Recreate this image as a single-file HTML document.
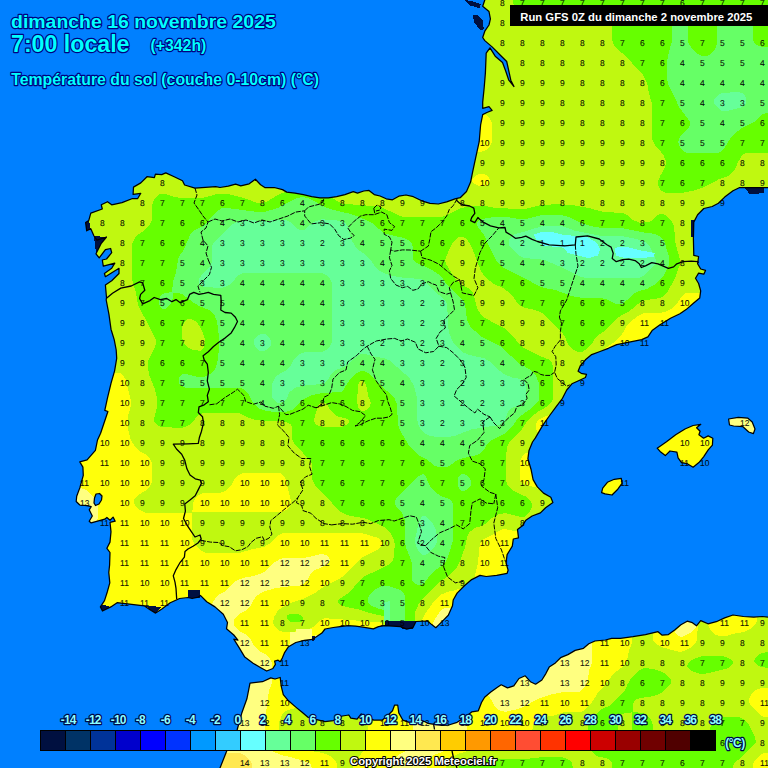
<!DOCTYPE html>
<html><head><meta charset="utf-8"><title>Meteociel GFS</title>
<style>html,body{margin:0;padding:0;background:#0080ff;overflow:hidden}body{width:768px;height:768px;position:relative;font-family:"Liberation Sans",sans-serif}</style></head>
<body>
<svg width="768" height="768" viewBox="0 0 768 768" style="position:absolute;left:0;top:0" shape-rendering="crispEdges">
<rect width="768" height="768" fill="#66ffff"/>
<path fill="#66ff99" fill-rule="evenodd" d="M767.8,615.2 765.2,614.8 751.2,615.2 750.8,614.8 744.2,614.8 736.8,613.2 730.8,613.2 722.2,616.2 715.2,619.8 708.8,621.8 703.2,618.8 698.8,618.8 696.2,622.2 693.8,620.2 689.8,619.2 685.2,619.2 666.8,632.8 663.8,632.8 660.2,629.8 655.2,629.8 644.8,632.8 620.2,636.8 609.2,636.8 604.8,638.2 593.2,639.2 587.2,642.2 581.8,646.8 573.2,648.8 564.2,653.8 558.8,655.8 553.2,661.8 547.2,665.2 540.8,677.8 535.8,681.2 532.8,679.8 527.2,674.2 522.8,674.2 517.2,676.8 512.8,683.8 511.2,684.8 507.2,685.2 503.8,683.2 498.2,683.8 489.8,689.8 482.2,696.2 479.2,701.8 477.2,708.2 476.2,709.2 469.8,710.2 463.2,715.8 456.2,720.2 447.8,723.2 442.8,723.8 432.2,722.2 426.2,719.2 421.2,719.2 416.8,720.8 410.8,720.8 404.8,717.8 401.2,711.2 399.8,703.2 392.8,703.2 390.8,709.2 385.8,714.2 380.2,718.2 375.8,718.2 363.2,712.2 359.2,712.2 355.8,716.8 353.2,716.2 351.2,713.2 345.8,713.2 335.2,715.8 331.8,718.8 324.2,719.2 310.8,715.8 289.8,698.2 285.2,691.8 283.2,684.8 282.2,675.8 277.8,675.8 275.8,676.8 268.8,676.2 261.2,679.8 248.2,681.2 245.2,697.8 239.2,712.8 235.8,727.2 225.8,746.8 218.2,765.2 218.2,767.8 767.8,767.8ZM623.8,476.8 618.2,476.8 612.2,477.8 605.8,480.8 600.8,486.2 599.8,489.8 599.8,494.8 605.2,496.8 614.2,497.2 620.8,490.8 624.2,485.8ZM715.2,436.2 710.8,434.2 705.8,434.2 704.2,435.2 702.2,433.8 702.2,429.8 701.2,428.2 703.2,426.8 703.2,422.8 690.8,423.8 682.2,427.8 675.8,431.8 655.8,445.8 655.2,450.2 659.2,454.8 663.8,457.8 667.8,457.8 671.8,453.8 674.8,454.2 675.8,456.2 676.2,460.2 679.8,464.8 685.8,465.8 691.2,469.2 695.2,469.2 702.2,463.8 706.2,458.8 709.8,452.8 714.8,447.2ZM726.8,417.2 726.8,422.8 727.8,427.2 731.2,428.2 741.2,428.8 747.8,434.8 751.2,435.8 755.8,435.8 757.2,431.8 757.2,426.8 754.2,420.2 749.8,416.2 735.2,415.8ZM767.8,0.2 482.2,0.2 480.8,3.8 480.8,8.2 487.2,13.8 488.2,17.8 487.2,23.2 483.8,28.2 480.8,35.2 480.8,39.8 487.8,46.8 484.2,51.2 483.8,73.2 480.8,98.2 480.8,110.8 483.8,111.2 480.8,112.8 478.8,122.2 477.8,136.8 475.8,148.8 470.8,168.8 469.2,178.8 464.8,189.8 458.2,195.8 443.8,200.8 437.8,202.2 431.8,201.8 424.8,199.8 415.8,194.8 409.2,193.2 399.2,193.8 395.2,195.2 391.8,197.8 390.2,197.8 382.8,194.2 376.2,192.8 371.2,188.8 365.2,188.8 359.8,190.2 351.2,189.8 343.8,192.8 327.8,196.2 321.2,196.2 304.2,192.2 288.8,190.2 284.8,187.8 277.2,185.8 267.2,185.8 263.2,183.8 257.8,177.2 253.8,177.2 247.2,182.2 242.2,183.8 238.2,182.2 233.2,182.2 222.2,185.2 211.2,184.8 196.8,186.2 186.8,183.2 184.2,178.8 168.8,171.2 163.8,171.2 161.8,172.2 153.8,172.2 152.8,175.2 145.2,174.8 138.8,181.8 132.2,184.8 130.8,196.8 120.8,200.8 114.8,202.2 112.8,202.2 109.8,199.8 105.8,199.8 99.8,203.2 99.2,207.8 89.2,211.2 87.2,218.8 83.8,220.8 83.8,226.8 84.8,233.2 89.8,232.8 94.2,241.2 95.2,242.2 99.2,242.8 94.2,252.2 94.2,256.2 97.2,260.2 100.8,260.8 101.8,268.2 106.8,268.8 102.8,271.8 102.8,276.2 103.8,278.8 107.8,278.8 110.8,276.8 111.8,277.2 109.2,279.8 103.8,283.2 103.8,290.2 104.8,296.8 104.2,297.2 104.2,303.2 107.2,315.8 109.2,331.8 113.2,345.8 114.8,358.2 112.8,369.8 109.8,379.2 103.2,407.8 103.2,412.8 104.8,413.8 104.8,415.2 98.8,432.2 95.8,437.8 93.8,448.8 85.2,458.2 78.2,460.2 78.2,464.2 81.2,469.2 81.8,474.2 78.2,486.8 74.8,493.8 74.2,503.8 78.2,507.2 86.2,507.8 87.2,508.8 87.2,512.2 89.2,515.8 87.2,519.2 87.2,523.2 89.2,525.2 93.8,525.2 106.8,521.2 108.2,522.2 108.2,526.8 109.2,531.8 108.2,540.8 105.2,546.2 105.2,550.8 108.2,554.8 107.8,566.8 107.2,567.2 107.8,583.2 103.2,597.8 98.8,605.2 98.8,609.8 100.2,612.8 105.2,613.2 114.2,608.8 117.8,605.8 120.2,605.2 142.2,608.2 153.8,615.2 157.8,615.2 163.8,611.8 172.2,604.8 181.2,600.8 184.2,600.2 195.2,600.8 200.2,599.2 205.2,604.2 212.8,608.8 221.8,616.2 225.2,623.2 224.8,631.2 232.2,637.2 232.2,641.2 242.8,658.8 251.8,666.2 264.8,673.2 269.2,673.2 275.8,670.2 277.8,666.8 278.2,663.8 282.8,663.2 287.8,653.2 291.2,648.2 299.8,644.2 305.8,642.8 314.8,641.8 323.8,635.8 326.2,632.2 328.8,630.8 350.2,627.8 362.2,629.2 370.8,631.2 376.2,631.2 380.8,628.8 386.8,627.8 387.2,628.2 399.2,628.8 404.2,631.2 409.8,631.2 415.2,629.8 418.2,623.8 423.8,623.8 424.2,623.2 425.8,623.2 434.2,629.8 438.2,629.8 450.8,617.2 454.8,608.8 455.2,602.2 458.8,595.8 473.8,581.8 480.8,578.2 490.8,578.8 499.8,577.8 509.2,575.8 510.2,572.8 510.2,567.8 508.8,563.8 509.2,556.8 514.8,548.2 515.8,541.8 517.2,540.8 520.8,540.2 520.2,531.2 525.2,527.2 528.8,521.8 535.2,517.8 542.8,515.2 548.2,509.2 555.2,504.8 555.2,500.2 553.2,495.8 546.2,491.8 539.2,484.8 535.2,477.8 533.8,468.8 530.8,459.8 531.2,452.2 535.2,443.2 538.2,439.8 544.2,428.2 556.2,411.2 563.8,402.2 568.8,392.2 574.2,386.2 587.8,379.8 588.8,377.2 588.8,372.8 583.2,371.8 581.8,370.2 582.2,368.2 590.2,359.8 594.8,356.2 611.2,350.8 620.2,346.2 642.2,342.2 650.2,339.2 654.8,332.2 670.8,321.8 683.2,315.8 698.8,303.2 701.8,300.2 702.8,294.8 702.8,288.8 701.2,282.8 698.8,278.8 700.8,275.8 701.2,276.2 706.2,276.2 707.8,273.2 707.8,268.8 702.8,267.2 700.2,263.2 700.8,254.8 697.8,254.2 696.2,253.2 696.2,245.8 695.8,245.2 696.2,223.8 699.2,217.8 706.2,210.8 714.8,208.8 720.8,205.8 727.2,198.8 735.8,192.8 741.2,189.8 767.8,189.8ZM539.8,241.8 543.2,239.8 547.8,239.2 561.8,239.2 573.2,240.8 579.2,240.8 586.8,242.8 589.2,245.2 589.2,247.2 585.8,250.8 581.2,251.8 565.2,247.8 544.8,245.8 540.8,244.2 539.8,243.2Z"/>
<path fill="#66ff66" fill-rule="evenodd" d="M767.8,615.2 765.2,614.8 751.2,615.2 750.8,614.8 744.2,614.8 736.8,613.2 730.8,613.2 722.2,616.2 715.2,619.8 708.8,621.8 703.2,618.8 698.8,618.8 696.2,622.2 693.8,620.2 689.8,619.2 685.2,619.2 666.8,632.8 663.8,632.8 660.2,629.8 655.2,629.8 644.8,632.8 620.2,636.8 609.2,636.8 604.8,638.2 593.2,639.2 587.2,642.2 581.8,646.8 573.2,648.8 564.2,653.8 558.8,655.8 553.2,661.8 547.2,665.2 540.8,677.8 535.8,681.2 532.8,679.8 527.2,674.2 522.8,674.2 517.2,676.8 512.8,683.8 511.2,684.8 507.2,685.2 503.8,683.2 498.2,683.8 489.8,689.8 482.2,696.2 479.2,701.8 477.2,708.2 476.2,709.2 469.8,710.2 463.2,715.8 456.2,720.2 447.8,723.2 442.8,723.8 432.2,722.2 426.2,719.2 421.2,719.2 416.8,720.8 410.8,720.8 404.8,717.8 401.2,711.2 399.8,703.2 392.8,703.2 390.8,709.2 385.8,714.2 380.2,718.2 375.8,718.2 363.2,712.2 359.2,712.2 355.8,716.8 353.2,716.2 351.2,713.2 345.8,713.2 335.2,715.8 331.8,718.8 324.2,719.2 310.8,715.8 289.8,698.2 285.2,691.8 283.2,684.8 282.2,675.8 277.8,675.8 275.8,676.8 268.8,676.2 261.2,679.8 248.2,681.2 245.2,697.8 239.2,712.8 235.8,727.2 225.8,746.8 218.2,765.2 218.2,767.8 767.8,767.8ZM623.8,476.8 618.2,476.8 612.2,477.8 605.8,480.8 600.8,486.2 599.8,489.8 599.8,494.8 605.2,496.8 614.2,497.2 620.8,490.8 624.2,485.8ZM715.2,436.2 710.8,434.2 705.8,434.2 704.2,435.2 702.2,433.8 702.2,429.8 701.2,428.2 703.2,426.8 703.2,422.8 690.8,423.8 682.2,427.8 675.8,431.8 655.8,445.8 655.2,450.2 659.2,454.8 663.8,457.8 667.8,457.8 671.8,453.8 674.8,454.2 675.8,456.2 676.2,460.2 679.8,464.8 685.8,465.8 691.2,469.2 695.2,469.2 702.2,463.8 706.2,458.8 709.8,452.8 714.8,447.2ZM726.8,417.2 726.8,422.8 727.8,427.2 731.2,428.2 741.2,428.8 747.8,434.8 751.2,435.8 755.8,435.8 757.2,431.8 757.2,426.8 754.2,420.2 749.8,416.2 735.2,415.8ZM767.8,0.2 482.2,0.2 480.8,3.8 480.8,8.2 487.2,13.8 488.2,17.8 487.2,23.2 483.8,28.2 480.8,35.2 480.8,39.8 487.8,46.8 484.2,51.2 483.8,73.2 480.8,98.2 480.8,110.8 483.8,111.2 480.8,112.8 478.8,122.2 477.8,136.8 475.8,148.8 470.8,168.8 469.2,178.8 464.8,189.8 458.2,195.8 443.8,200.8 437.8,202.2 431.8,201.8 424.8,199.8 415.8,194.8 409.2,193.2 399.2,193.8 395.2,195.2 391.8,197.8 390.2,197.8 382.8,194.2 376.2,192.8 371.2,188.8 365.2,188.8 359.8,190.2 351.2,189.8 343.8,192.8 327.8,196.2 321.2,196.2 304.2,192.2 288.8,190.2 284.8,187.8 277.2,185.8 267.2,185.8 263.2,183.8 257.8,177.2 253.8,177.2 247.2,182.2 242.2,183.8 238.2,182.2 233.2,182.2 222.2,185.2 211.2,184.8 196.8,186.2 186.8,183.2 184.2,178.8 168.8,171.2 163.8,171.2 161.8,172.2 153.8,172.2 152.8,175.2 145.2,174.8 138.8,181.8 132.2,184.8 130.8,196.8 120.8,200.8 114.8,202.2 112.8,202.2 109.8,199.8 105.8,199.8 99.8,203.2 99.2,207.8 89.2,211.2 87.2,218.8 83.8,220.8 83.8,226.8 84.8,233.2 89.8,232.8 94.2,241.2 95.2,242.2 99.2,242.8 94.2,252.2 94.2,256.2 97.2,260.2 100.8,260.8 101.8,268.2 106.8,268.8 102.8,271.8 102.8,276.2 103.8,278.8 107.8,278.8 110.8,276.8 111.8,277.2 109.2,279.8 103.8,283.2 103.8,290.2 104.8,296.8 104.2,297.2 104.2,303.2 107.2,315.8 109.2,331.8 113.2,345.8 114.8,358.2 112.8,369.8 109.8,379.2 103.2,407.8 103.2,412.8 104.8,413.8 104.8,415.2 98.8,432.2 95.8,437.8 93.8,448.8 85.2,458.2 78.2,460.2 78.2,464.2 81.2,469.2 81.8,474.2 78.2,486.8 74.8,493.8 74.2,503.8 78.2,507.2 86.2,507.8 87.2,508.8 87.2,512.2 89.2,515.8 87.2,519.2 87.2,523.2 89.2,525.2 93.8,525.2 106.8,521.2 108.2,522.2 108.2,526.8 109.2,531.8 108.2,540.8 105.2,546.2 105.2,550.8 108.2,554.8 107.8,566.8 107.2,567.2 107.8,583.2 103.2,597.8 98.8,605.2 98.8,609.8 100.2,612.8 105.2,613.2 114.2,608.8 117.8,605.8 120.2,605.2 142.2,608.2 153.8,615.2 157.8,615.2 163.8,611.8 172.2,604.8 181.2,600.8 184.2,600.2 195.2,600.8 200.2,599.2 205.2,604.2 212.8,608.8 221.8,616.2 225.2,623.2 224.8,631.2 232.2,637.2 232.2,641.2 242.8,658.8 251.8,666.2 264.8,673.2 269.2,673.2 275.8,670.2 277.8,666.8 278.2,663.8 282.8,663.2 287.8,653.2 291.2,648.2 299.8,644.2 305.8,642.8 314.8,641.8 323.8,635.8 326.2,632.2 328.8,630.8 350.2,627.8 362.2,629.2 370.8,631.2 376.2,631.2 380.8,628.8 386.8,627.8 387.2,628.2 399.2,628.8 404.2,631.2 409.8,631.2 415.2,629.8 418.2,623.8 423.8,623.8 424.2,623.2 425.8,623.2 434.2,629.8 438.2,629.8 450.8,617.2 454.8,608.8 455.2,602.2 458.8,595.8 473.8,581.8 480.8,578.2 490.8,578.8 499.8,577.8 509.2,575.8 510.2,572.8 510.2,567.8 508.8,563.8 509.2,556.8 514.8,548.2 515.8,541.8 517.2,540.8 520.8,540.2 520.2,531.2 525.2,527.2 528.8,521.8 535.2,517.8 542.8,515.2 548.2,509.2 555.2,504.8 555.2,500.2 553.2,495.8 546.2,491.8 539.2,484.8 535.2,477.8 533.8,468.8 530.8,459.8 531.2,452.2 535.2,443.2 538.2,439.8 544.2,428.2 556.2,411.2 563.8,402.2 568.8,392.2 574.2,386.2 587.8,379.8 588.8,377.2 588.8,372.8 583.2,371.8 581.8,370.2 582.2,368.2 590.2,359.8 594.8,356.2 611.2,350.8 620.2,346.2 642.2,342.2 650.2,339.2 654.8,332.2 670.8,321.8 683.2,315.8 698.8,303.2 701.8,300.2 702.8,294.8 702.8,288.8 701.2,282.8 698.8,278.8 700.8,275.8 701.2,276.2 706.2,276.2 707.8,273.2 707.8,268.8 702.8,267.2 700.2,263.2 700.8,254.8 697.8,254.2 696.2,253.2 696.2,245.8 695.8,245.2 696.2,223.8 699.2,217.8 706.2,210.8 714.8,208.8 720.8,205.8 727.2,198.8 735.8,192.8 741.2,189.8 767.8,189.8ZM423.2,515.8 425.2,515.8 426.8,516.8 433.2,523.8 435.8,530.2 437.2,538.2 437.2,541.2 435.2,546.2 428.8,553.2 425.2,555.2 422.8,555.2 419.2,551.8 416.2,546.2 415.2,542.8 415.2,538.8 418.2,524.8 420.8,518.2ZM260.8,333.8 264.2,333.8 266.2,334.8 269.2,337.2 271.2,340.8 271.2,344.2 270.2,346.2 267.8,349.2 264.2,351.2 260.8,351.2 258.8,350.2 255.8,347.8 253.8,344.2 253.8,340.8 254.8,338.8 257.2,335.8ZM508.8,239.8 512.8,235.2 515.8,233.8 524.2,231.8 542.8,225.8 561.2,225.8 575.2,230.8 602.2,236.2 622.2,236.2 635.2,238.8 643.8,241.2 646.2,242.8 650.2,247.2 655.2,257.2 656.2,261.8 654.8,265.2 644.8,275.2 639.2,277.8 584.8,277.8 579.2,276.2 563.8,268.2 544.8,260.2 539.8,259.2 525.8,258.2 522.2,257.2 516.8,253.8 511.8,248.8 509.2,245.2ZM213.2,243.2 231.8,224.8 238.2,221.2 243.2,220.2 268.2,220.8 274.8,219.8 285.2,219.8 291.2,222.2 297.2,228.8 299.8,230.2 303.2,230.2 305.2,229.2 313.8,221.8 321.8,219.2 340.2,220.8 345.2,222.8 348.2,226.8 350.8,238.2 355.2,246.8 358.8,250.2 363.2,253.2 371.8,261.8 374.8,266.2 378.2,269.8 384.2,273.2 392.2,275.8 404.2,277.8 418.8,278.8 422.8,279.8 425.2,281.2 437.2,293.8 440.8,296.2 445.8,301.2 447.2,304.2 448.2,327.8 449.8,334.8 453.2,342.8 463.8,352.8 470.2,355.2 484.2,358.2 490.2,361.8 498.8,370.2 505.2,374.8 513.2,377.8 515.2,377.8 521.8,379.8 524.8,382.8 525.8,385.2 525.8,398.8 524.8,401.2 521.8,404.2 511.2,408.2 508.2,411.2 504.8,420.8 502.8,423.2 500.2,424.8 472.2,429.2 454.8,435.8 447.2,437.2 437.8,437.2 430.2,435.8 425.2,433.8 421.2,429.8 418.2,424.2 417.2,420.2 416.8,397.2 414.2,386.8 409.8,378.2 389.2,360.2 382.8,357.8 374.8,356.8 364.2,353.8 361.8,353.8 358.2,355.2 347.2,364.8 334.8,370.8 330.8,374.8 327.8,380.2 324.8,382.8 320.8,384.2 305.8,385.2 295.2,387.8 289.8,391.8 285.8,400.2 283.8,402.2 278.2,402.8 275.8,401.8 272.8,398.8 272.2,397.2 272.2,384.8 272.8,382.2 275.2,377.8 278.2,374.8 286.8,369.8 289.8,366.8 294.8,358.2 299.2,354.2 304.8,352.2 322.8,351.8 327.2,349.2 329.2,347.2 331.8,342.8 332.2,340.2 332.2,284.8 331.8,282.2 329.2,277.8 327.2,275.8 322.8,273.2 320.2,272.8 244.8,272.8 242.2,273.2 237.8,275.8 229.8,284.8 225.8,286.8 221.2,287.8 204.2,287.2 199.8,284.2 198.8,282.2 198.8,279.8 201.8,274.2 209.2,267.2 211.8,262.8 212.2,246.2ZM714.2,99.8 717.8,95.2 722.2,92.8 739.2,92.2 742.2,93.2 745.2,96.2 746.2,98.2 746.2,102.2 745.2,104.2 741.8,107.2 725.8,111.2 722.8,111.2 719.8,109.8 715.8,105.8 714.2,103.2Z"/>
<path fill="#66ff00" fill-rule="evenodd" d="M767.8,615.2 765.2,614.8 751.2,615.2 750.8,614.8 744.2,614.8 736.8,613.2 730.8,613.2 722.2,616.2 715.2,619.8 708.8,621.8 703.2,618.8 698.8,618.8 696.2,622.2 693.8,620.2 689.8,619.2 685.2,619.2 666.8,632.8 663.8,632.8 660.2,629.8 655.2,629.8 644.8,632.8 620.2,636.8 609.2,636.8 604.8,638.2 593.2,639.2 587.2,642.2 581.8,646.8 573.2,648.8 564.2,653.8 558.8,655.8 553.2,661.8 547.2,665.2 540.8,677.8 535.8,681.2 532.8,679.8 527.2,674.2 522.8,674.2 517.2,676.8 512.8,683.8 511.2,684.8 507.2,685.2 503.8,683.2 498.2,683.8 489.8,689.8 482.2,696.2 479.2,701.8 477.2,708.2 476.2,709.2 469.8,710.2 463.2,715.8 456.2,720.2 447.8,723.2 442.8,723.8 432.2,722.2 426.2,719.2 421.2,719.2 416.8,720.8 410.8,720.8 404.8,717.8 401.2,711.2 399.8,703.2 392.8,703.2 390.8,709.2 385.8,714.2 380.2,718.2 375.8,718.2 363.2,712.2 359.2,712.2 355.8,716.8 353.2,716.2 351.2,713.2 345.8,713.2 335.2,715.8 331.8,718.8 324.2,719.2 310.8,715.8 289.8,698.2 285.2,691.8 283.2,684.8 282.2,675.8 277.8,675.8 275.8,676.8 268.8,676.2 261.2,679.8 248.2,681.2 245.2,697.8 239.2,712.8 235.8,727.2 225.8,746.8 218.2,765.2 218.2,767.8 767.8,767.8ZM623.8,476.8 618.2,476.8 612.2,477.8 605.8,480.8 600.8,486.2 599.8,489.8 599.8,494.8 605.2,496.8 614.2,497.2 620.8,490.8 624.2,485.8ZM715.2,436.2 710.8,434.2 705.8,434.2 704.2,435.2 702.2,433.8 702.2,429.8 701.2,428.2 703.2,426.8 703.2,422.8 690.8,423.8 682.2,427.8 675.8,431.8 655.8,445.8 655.2,450.2 659.2,454.8 663.8,457.8 667.8,457.8 671.8,453.8 674.8,454.2 675.8,456.2 676.2,460.2 679.8,464.8 685.8,465.8 691.2,469.2 695.2,469.2 702.2,463.8 706.2,458.8 709.8,452.8 714.8,447.2ZM726.8,417.2 726.8,422.8 727.8,427.2 731.2,428.2 741.2,428.8 747.8,434.8 751.2,435.8 755.8,435.8 757.2,431.8 757.2,426.8 754.2,420.2 749.8,416.2 735.2,415.8ZM767.8,0.2 482.2,0.2 480.8,3.8 480.8,8.2 487.2,13.8 488.2,17.8 487.2,23.2 483.8,28.2 480.8,35.2 480.8,39.8 487.8,46.8 484.2,51.2 483.8,73.2 480.8,98.2 480.8,110.8 483.8,111.2 480.8,112.8 478.8,122.2 477.8,136.8 475.8,148.8 470.8,168.8 469.2,178.8 464.8,189.8 458.2,195.8 443.8,200.8 437.8,202.2 431.8,201.8 424.8,199.8 415.8,194.8 409.2,193.2 399.2,193.8 395.2,195.2 391.8,197.8 390.2,197.8 382.8,194.2 376.2,192.8 371.2,188.8 365.2,188.8 359.8,190.2 351.2,189.8 343.8,192.8 327.8,196.2 321.2,196.2 304.2,192.2 288.8,190.2 284.8,187.8 277.2,185.8 267.2,185.8 263.2,183.8 257.8,177.2 253.8,177.2 247.2,182.2 242.2,183.8 238.2,182.2 233.2,182.2 222.2,185.2 211.2,184.8 196.8,186.2 186.8,183.2 184.2,178.8 168.8,171.2 163.8,171.2 161.8,172.2 153.8,172.2 152.8,175.2 145.2,174.8 138.8,181.8 132.2,184.8 130.8,196.8 120.8,200.8 114.8,202.2 112.8,202.2 109.8,199.8 105.8,199.8 99.8,203.2 99.2,207.8 89.2,211.2 87.2,218.8 83.8,220.8 83.8,226.8 84.8,233.2 89.8,232.8 94.2,241.2 95.2,242.2 99.2,242.8 94.2,252.2 94.2,256.2 97.2,260.2 100.8,260.8 101.8,268.2 106.8,268.8 102.8,271.8 102.8,276.2 103.8,278.8 107.8,278.8 110.8,276.8 111.8,277.2 109.2,279.8 103.8,283.2 103.8,290.2 104.8,296.8 104.2,297.2 104.2,303.2 107.2,315.8 109.2,331.8 113.2,345.8 114.8,358.2 112.8,369.8 109.8,379.2 103.2,407.8 103.2,412.8 104.8,413.8 104.8,415.2 98.8,432.2 95.8,437.8 93.8,448.8 85.2,458.2 78.2,460.2 78.2,464.2 81.2,469.2 81.8,474.2 78.2,486.8 74.8,493.8 74.2,503.8 78.2,507.2 86.2,507.8 87.2,508.8 87.2,512.2 89.2,515.8 87.2,519.2 87.2,523.2 89.2,525.2 93.8,525.2 106.8,521.2 108.2,522.2 108.2,526.8 109.2,531.8 108.2,540.8 105.2,546.2 105.2,550.8 108.2,554.8 107.8,566.8 107.2,567.2 107.8,583.2 103.2,597.8 98.8,605.2 98.8,609.8 100.2,612.8 105.2,613.2 114.2,608.8 117.8,605.8 120.2,605.2 142.2,608.2 153.8,615.2 157.8,615.2 163.8,611.8 172.2,604.8 181.2,600.8 184.2,600.2 195.2,600.8 200.2,599.2 205.2,604.2 212.8,608.8 221.8,616.2 225.2,623.2 224.8,631.2 232.2,637.2 232.2,641.2 242.8,658.8 251.8,666.2 264.8,673.2 269.2,673.2 275.8,670.2 277.8,666.8 278.2,663.8 282.8,663.2 287.8,653.2 291.2,648.2 299.8,644.2 305.8,642.8 314.8,641.8 323.8,635.8 326.2,632.2 328.8,630.8 350.2,627.8 362.2,629.2 370.8,631.2 376.2,631.2 380.8,628.8 386.8,627.8 387.2,628.2 399.2,628.8 404.2,631.2 409.8,631.2 415.2,629.8 418.2,623.8 423.8,623.8 424.2,623.2 425.8,623.2 434.2,629.8 438.2,629.8 450.8,617.2 454.8,608.8 455.2,602.2 458.8,595.8 473.8,581.8 480.8,578.2 490.8,578.8 499.8,577.8 509.2,575.8 510.2,572.8 510.2,567.8 508.8,563.8 509.2,556.8 514.8,548.2 515.8,541.8 517.2,540.8 520.8,540.2 520.2,531.2 525.2,527.2 528.8,521.8 535.2,517.8 542.8,515.2 548.2,509.2 555.2,504.8 555.2,500.2 553.2,495.8 546.2,491.8 539.2,484.8 535.2,477.8 533.8,468.8 530.8,459.8 531.2,452.2 535.2,443.2 538.2,439.8 544.2,428.2 556.2,411.2 563.8,402.2 568.8,392.2 574.2,386.2 587.8,379.8 588.8,377.2 588.8,372.8 583.2,371.8 581.8,370.2 582.2,368.2 590.2,359.8 594.8,356.2 611.2,350.8 620.2,346.2 642.2,342.2 650.2,339.2 654.8,332.2 670.8,321.8 683.2,315.8 698.8,303.2 701.8,300.2 702.8,294.8 702.8,288.8 701.2,282.8 698.8,278.8 700.8,275.8 701.2,276.2 706.2,276.2 707.8,273.2 707.8,268.8 702.8,267.2 700.2,263.2 700.8,254.8 697.8,254.2 696.2,253.2 696.2,245.8 695.8,245.2 696.2,223.8 699.2,217.8 706.2,210.8 714.8,208.8 720.8,205.8 727.2,198.8 735.8,192.8 741.2,189.8 767.8,189.8 767.8,112.8 763.2,113.8 754.2,121.8 741.8,128.2 736.8,131.8 729.8,139.2 723.8,149.2 719.8,152.2 718.2,152.8 686.8,152.8 683.2,151.2 681.2,149.2 678.8,144.8 678.2,141.8 680.2,136.2 689.8,126.2 690.2,121.8 679.8,108.2 668.8,85.8 667.2,80.2 667.2,61.2 668.8,52.2 672.2,40.2 672.2,25.8 674.8,20.2 678.8,16.2 682.2,15.2 685.2,17.8 686.8,20.8 687.8,25.2 687.8,40.2 688.8,43.8 691.8,48.2 696.8,53.2 702.2,56.2 707.2,55.8 710.2,54.2 714.2,50.2 716.2,46.2 717.2,42.2 717.2,25.8 718.2,22.2 720.8,19.2 725.8,17.2 740.2,17.2 744.8,18.2 749.2,20.8 751.2,22.8 752.8,26.2 752.8,39.2 753.8,42.2 756.2,44.8 759.2,46.2 763.8,47.2 767.8,47.2ZM369.2,595.8 375.8,589.2 381.8,586.2 388.8,586.2 398.8,589.2 402.8,592.2 404.8,595.8 405.8,599.8 405.2,609.2 403.2,618.2 401.8,619.2 399.2,615.8 396.2,612.8 394.2,611.8 378.2,608.8 370.8,605.2 367.8,601.8 367.8,598.8ZM423.2,474.2 426.2,476.8 428.2,482.8 430.2,486.2 436.8,493.2 441.2,496.2 449.8,499.2 452.2,502.2 452.8,504.2 452.8,541.2 447.8,557.8 444.8,563.2 442.2,565.8 435.8,569.8 429.8,575.8 424.2,583.2 421.8,584.8 418.8,585.2 414.8,583.8 413.2,582.2 412.2,579.8 412.2,564.8 410.2,557.8 406.2,548.2 404.8,541.2 404.8,533.8 405.2,533.2 404.8,519.8 401.8,512.8 395.8,505.8 394.8,503.8 394.8,501.2 395.8,499.2 410.8,483.8 419.2,475.8ZM461.8,473.8 464.2,473.8 467.8,475.8 471.2,480.8 471.2,484.2 470.2,486.2 467.8,489.2 464.2,491.2 460.8,490.8 459.2,489.2 457.8,485.2 458.2,477.8 459.2,475.8ZM172.2,292.2 172.8,292.8 172.8,298.2 170.8,303.8 165.2,309.2 161.8,308.8 158.8,304.2 158.8,299.8 160.2,296.8 163.2,293.8 165.2,292.8ZM476.8,222.8 479.8,220.2 483.8,218.8 495.2,216.8 506.8,216.8 519.2,219.2 524.8,219.2 543.2,214.8 561.2,214.8 570.8,217.8 580.8,223.2 594.2,226.8 602.8,228.2 622.8,228.2 641.8,232.2 653.8,233.8 660.2,236.2 664.2,240.8 669.2,257.8 669.2,264.8 663.2,276.2 656.8,283.2 647.2,288.8 638.8,291.2 633.8,293.8 622.8,303.8 620.8,304.2 615.8,303.8 606.2,299.2 600.2,297.8 581.2,297.8 572.2,296.2 554.8,289.8 545.2,288.2 538.8,286.2 530.2,281.2 502.2,267.2 497.8,262.8 495.8,259.8 487.8,243.8 484.8,236.2 477.8,226.8 476.8,224.8ZM178.2,258.8 180.8,253.8 183.8,249.8 190.2,234.8 194.8,230.2 203.8,225.8 216.8,211.2 221.8,208.2 228.8,208.2 255.8,211.8 265.2,211.8 277.2,208.2 296.8,198.2 300.8,197.2 304.2,197.2 310.8,199.2 321.2,205.2 330.2,209.2 349.8,213.8 357.2,216.2 371.8,222.8 382.2,231.8 385.8,233.8 404.8,238.2 409.2,240.8 411.2,242.8 412.8,246.2 412.8,257.8 414.2,261.2 421.2,265.2 424.8,266.2 431.8,269.8 438.2,274.2 442.8,278.8 448.2,286.2 463.8,301.2 465.2,305.2 466.8,318.8 469.2,324.8 471.8,328.2 480.8,336.2 501.2,346.8 518.2,362.8 529.2,369.2 535.8,375.8 539.2,383.2 539.2,399.2 538.8,400.8 533.2,406.8 521.8,415.2 516.2,420.8 511.8,427.2 507.8,431.2 503.8,434.2 491.2,440.2 487.2,444.2 484.2,449.8 480.8,453.2 474.8,455.8 460.2,458.8 455.8,461.2 449.2,466.2 446.2,467.2 438.8,467.2 434.8,465.8 427.8,460.2 418.8,455.2 409.2,445.8 400.8,431.8 397.8,424.8 397.2,404.8 394.8,398.8 388.2,391.8 382.8,387.8 370.2,374.2 364.8,371.2 360.8,371.2 355.2,374.2 348.8,381.2 343.2,390.2 340.8,392.2 322.8,392.8 311.8,395.2 303.2,399.2 295.2,407.8 292.2,409.8 285.2,412.2 275.8,412.2 263.2,410.2 258.8,408.2 253.2,403.2 249.2,395.2 246.8,391.8 243.8,389.2 239.8,387.8 186.2,387.8 181.8,386.2 178.8,382.8 178.8,378.2 181.2,374.8 183.2,373.8 185.8,373.8 197.2,376.8 204.2,376.8 210.2,374.2 214.2,370.2 216.2,366.2 217.8,360.2 218.8,350.2 218.8,334.8 216.8,320.2 214.2,314.8 212.2,312.2 208.8,309.8 200.8,306.8 194.2,303.2 182.2,294.2 178.2,292.8 172.8,292.8 172.2,292.2 172.8,282.2 175.8,272.8Z"/>
<path fill="#c0f810" fill-rule="evenodd" d="M767.8,615.2 765.2,614.8 751.2,615.2 750.8,614.8 744.2,614.8 736.8,613.2 730.8,613.2 722.2,616.2 715.2,619.8 708.8,621.8 703.2,618.8 698.8,618.8 696.2,622.2 693.8,620.2 689.8,619.2 685.2,619.2 666.8,632.8 663.8,632.8 660.2,629.8 655.2,629.8 644.8,632.8 620.2,636.8 609.2,636.8 604.8,638.2 593.2,639.2 587.2,642.2 581.8,646.8 573.2,648.8 564.2,653.8 558.8,655.8 553.2,661.8 547.2,665.2 540.8,677.8 535.8,681.2 532.8,679.8 527.2,674.2 522.8,674.2 517.2,676.8 512.8,683.8 511.2,684.8 507.2,685.2 503.8,683.2 498.2,683.8 489.8,689.8 482.2,696.2 479.2,701.8 477.2,708.2 476.2,709.2 469.8,710.2 463.2,715.8 456.2,720.2 447.8,723.2 442.8,723.8 432.2,722.2 426.2,719.2 421.2,719.2 416.8,720.8 410.8,720.8 404.8,717.8 401.2,711.2 399.8,703.2 392.8,703.2 390.8,709.2 385.8,714.2 380.2,718.2 375.8,718.2 363.2,712.2 359.2,712.2 355.8,716.8 353.2,716.2 351.2,713.2 345.8,713.2 335.2,715.8 331.8,718.8 324.2,719.2 310.8,715.8 289.8,698.2 285.2,691.8 283.2,684.8 282.2,675.8 277.8,675.8 275.8,676.8 268.8,676.2 261.2,679.8 248.2,681.2 245.2,697.8 239.2,712.8 235.8,727.2 225.8,746.8 218.2,765.2 218.2,767.8 459.2,767.8 459.8,764.8 461.8,762.2 465.2,760.8 474.2,760.2 480.2,759.2 523.8,759.2 542.2,757.2 561.2,757.2 565.8,758.2 568.8,759.8 571.8,762.8 572.8,767.8 612.2,767.8 611.8,762.8 610.2,760.2 606.2,758.2 598.8,756.8 594.8,754.8 590.2,750.2 588.2,746.2 587.2,741.8 587.8,724.2 589.2,721.8 601.8,709.2 611.2,704.8 624.8,691.2 626.8,685.8 629.8,680.2 640.2,669.8 645.2,667.8 656.8,669.8 664.8,673.2 669.8,677.8 670.8,679.8 670.8,683.2 669.8,685.2 662.8,692.2 659.2,694.2 652.8,696.2 639.2,698.2 635.8,699.8 633.8,701.8 632.8,705.2 632.8,712.2 621.8,713.8 619.8,715.8 618.2,719.2 617.8,723.2 617.8,741.8 618.8,747.2 620.8,750.2 624.2,750.8 627.8,748.8 631.8,742.8 632.2,740.2 632.2,712.8 632.8,712.2 642.2,712.8 645.8,714.2 649.8,717.8 652.2,722.2 652.8,724.8 653.2,742.8 655.8,747.2 657.8,749.2 662.2,751.2 677.2,747.8 687.8,747.8 699.2,750.8 701.8,750.8 704.2,749.2 706.2,745.8 708.8,732.2 711.8,723.8 715.2,720.2 717.8,718.8 723.8,717.2 739.2,717.2 743.2,718.8 747.8,723.2 749.8,726.2 755.2,737.2 755.8,742.2 754.8,744.2 741.2,757.8 734.2,762.8 732.8,767.8 767.8,767.8 767.8,667.8 762.2,667.2 759.2,666.2 756.8,664.8 754.2,661.2 754.8,658.8 757.8,655.2 762.2,652.8 767.8,652.2ZM687.2,666.2 687.8,663.2 690.8,660.8 695.8,658.2 703.2,655.8 723.2,656.2 730.2,658.8 732.8,661.2 732.8,663.8 729.8,666.8 726.2,668.8 705.2,673.8 699.8,673.8 693.8,671.8 690.2,669.8ZM623.8,476.8 618.2,476.8 612.2,477.8 605.8,480.8 600.8,486.2 599.8,489.8 599.8,494.8 605.2,496.8 614.2,497.2 620.8,490.8 624.2,485.8ZM715.2,436.2 710.8,434.2 705.8,434.2 704.2,435.2 702.2,433.8 702.2,429.8 701.2,428.2 703.2,426.8 703.2,422.8 690.8,423.8 682.2,427.8 675.8,431.8 655.8,445.8 655.2,450.2 659.2,454.8 663.8,457.8 667.8,457.8 671.8,453.8 674.8,454.2 675.8,456.2 676.2,460.2 679.8,464.8 685.8,465.8 691.2,469.2 695.2,469.2 702.2,463.8 706.2,458.8 709.8,452.8 714.8,447.2ZM726.8,417.2 726.8,422.8 727.8,427.2 731.2,428.2 741.2,428.8 747.8,434.8 751.2,435.8 755.8,435.8 757.2,431.8 757.2,426.8 754.2,420.2 749.8,416.2 735.2,415.8ZM317.8,405.8 314.2,419.2 314.2,421.8 315.2,423.8 317.2,425.2 324.2,427.2 339.8,427.2 344.2,426.2 348.8,423.2 349.2,422.2 348.8,419.8 343.8,417.8 338.8,416.8 334.8,414.8 330.2,410.2 328.2,406.2 325.2,403.2 321.8,402.8 320.2,403.2ZM360.8,381.2 358.8,383.2 357.8,385.8 357.2,403.2 358.8,408.8 360.8,410.8 363.2,411.2 366.2,410.2 368.8,408.2 370.2,406.2 370.8,402.2 368.2,396.2 366.2,384.8 364.2,381.8ZM187.8,319.2 184.2,321.8 182.2,326.8 181.8,335.2 182.8,340.8 184.8,344.2 188.2,347.8 192.2,349.8 200.2,350.8 203.2,348.2 204.8,344.8 204.8,339.2 202.8,332.8 199.8,326.2 196.2,321.8 191.8,319.2ZM153.8,172.2 152.8,175.2 145.2,174.8 138.8,181.8 131.8,185.2 131.2,196.2 120.8,200.8 114.8,202.2 112.8,202.2 109.8,199.8 105.8,199.8 99.8,203.2 99.2,207.8 89.2,211.2 87.2,218.8 83.8,220.8 83.8,226.8 84.8,233.2 89.8,232.8 94.2,241.2 95.2,242.2 99.2,242.8 94.2,252.2 94.2,256.2 97.2,260.2 100.8,260.8 101.8,268.2 106.8,268.8 102.8,271.8 103.2,277.8 103.8,278.8 107.8,278.8 110.8,276.8 111.8,277.2 109.2,279.8 103.8,283.2 103.8,290.2 104.8,296.8 104.2,297.2 104.2,303.2 107.2,315.8 109.2,331.8 111.8,339.2 114.2,351.2 114.8,358.2 113.2,367.2 105.8,395.2 103.2,407.8 103.2,412.8 104.8,413.8 104.8,415.2 98.8,432.2 95.8,437.8 93.8,448.8 85.2,458.2 78.2,460.2 78.2,464.2 81.2,469.2 81.8,474.2 78.2,486.8 74.8,493.8 74.2,497.2 74.2,503.8 78.2,507.2 86.2,507.8 87.2,508.8 87.2,512.2 89.2,515.8 87.2,519.2 87.2,523.2 89.2,525.2 93.8,525.2 106.8,521.2 108.2,522.2 108.2,526.8 109.2,531.8 108.2,540.8 105.2,546.2 105.2,550.8 108.2,554.8 107.8,566.8 107.2,567.2 107.8,583.2 103.2,597.8 98.8,605.2 98.8,609.8 100.2,612.8 105.2,613.2 114.2,608.8 117.8,605.8 120.2,605.2 142.2,608.2 153.8,615.2 157.8,615.2 163.8,611.8 172.2,604.8 181.2,600.8 184.2,600.2 195.2,600.8 200.2,599.2 205.2,604.2 212.8,608.8 221.8,616.2 225.2,623.2 224.8,631.2 232.2,637.2 232.2,641.2 242.8,658.8 251.8,666.2 264.8,673.2 269.2,673.2 275.2,670.8 277.8,666.8 277.8,664.2 282.2,663.8 284.2,661.2 287.8,653.2 291.2,648.2 299.8,644.2 305.8,642.8 314.8,641.8 323.8,635.8 327.2,631.2 348.8,627.8 359.2,628.8 370.8,631.2 376.2,631.2 380.8,628.8 385.8,627.8 392.2,628.2 392.2,625.2 390.8,621.2 389.2,619.2 384.2,616.2 370.2,613.2 357.8,609.2 346.8,607.2 340.2,604.8 338.2,603.2 337.8,601.2 340.8,598.2 348.2,593.2 353.2,588.2 357.8,582.2 363.8,576.8 388.2,564.8 392.8,560.8 394.2,554.8 394.2,548.8 394.8,548.2 394.8,544.2 393.2,537.8 390.2,532.2 384.8,527.2 366.8,519.2 362.2,517.8 350.2,515.8 344.2,513.8 338.2,510.2 334.2,506.2 331.2,501.8 314.8,484.8 312.2,479.2 311.8,463.8 309.8,460.2 293.8,443.2 292.2,439.2 292.2,427.2 290.8,424.2 286.8,422.2 281.2,421.2 261.8,420.8 255.2,419.8 249.8,418.2 238.8,412.8 204.8,412.8 202.2,413.2 197.8,415.8 189.8,424.8 185.8,426.8 181.2,427.8 161.8,427.2 157.2,425.2 154.8,422.8 153.8,419.8 156.8,407.8 156.8,397.2 155.2,390.2 149.2,374.8 147.8,367.2 147.8,362.8 149.2,358.2 155.2,346.8 156.2,341.8 155.2,338.2 138.2,305.2 135.8,292.2 132.2,280.2 132.2,244.8 132.8,242.2 135.2,237.8 138.8,234.2 143.2,231.2 150.8,223.2 152.2,219.2 152.2,204.8 154.2,199.2 157.8,195.2 160.8,193.8 164.8,193.8 171.8,196.2 179.8,197.8 202.8,197.8 218.2,193.8 226.8,193.8 239.8,196.8 257.2,202.8 262.2,203.2 266.8,201.8 277.8,194.8 284.8,192.2 292.8,190.8 288.8,190.2 284.8,187.8 277.2,185.8 267.2,185.8 263.2,183.8 257.8,177.2 253.8,177.2 247.2,182.2 242.2,183.8 238.2,182.2 233.2,182.2 222.2,185.2 211.2,184.8 196.8,186.2 186.8,183.2 184.2,178.8 168.8,171.2 163.8,171.2 161.8,172.2ZM286.8,616.2 288.2,614.8 290.8,613.8 297.2,613.8 300.8,615.2 303.2,617.8 303.2,620.2 301.2,622.2 291.2,621.8 288.8,620.8 286.8,618.8ZM602.8,13.2 600.2,12.8 524.8,12.8 519.2,10.8 515.2,7.2 512.8,2.8 512.8,0.2 482.2,0.2 480.8,3.8 480.8,8.2 487.2,13.8 488.2,17.8 487.2,23.2 483.8,28.2 480.8,35.2 480.8,39.8 487.8,46.8 484.2,51.2 483.8,73.2 480.8,98.2 480.8,110.8 483.8,111.2 480.8,112.8 478.2,126.2 477.2,140.8 474.2,156.2 470.8,168.8 468.8,180.8 464.8,189.8 457.2,196.2 437.8,202.2 431.8,201.8 424.8,199.8 415.8,194.8 409.2,193.2 399.2,193.8 395.2,195.2 391.8,197.8 390.2,197.8 382.8,194.2 376.2,192.8 371.2,188.8 365.2,188.8 359.8,190.2 351.2,189.8 343.8,192.8 328.8,195.8 338.2,201.8 343.2,203.8 375.8,206.2 381.8,207.2 399.2,215.8 404.8,217.2 440.8,217.2 445.8,215.8 461.8,207.8 475.2,205.8 483.8,205.8 495.2,207.8 513.8,208.8 514.2,209.2 524.8,209.2 541.8,204.8 561.2,204.2 561.8,204.8 572.8,205.2 587.8,207.8 604.8,212.2 622.8,212.8 626.8,214.8 633.2,220.2 639.8,222.8 648.2,222.2 652.2,220.2 657.8,215.2 659.8,214.2 663.2,214.2 665.2,215.2 672.2,222.2 674.2,226.8 675.2,242.2 679.8,259.2 679.8,264.8 674.8,278.8 667.8,291.2 662.8,296.8 659.8,298.2 644.8,300.2 640.8,301.8 629.8,310.8 617.2,317.8 605.2,330.8 600.2,333.8 595.2,338.2 591.8,343.8 586.8,349.2 582.2,351.8 577.8,351.8 572.8,349.8 568.8,345.8 564.8,336.8 561.8,332.2 542.8,313.2 534.8,309.8 525.8,308.2 520.8,306.2 517.2,302.8 513.2,296.8 508.2,291.8 503.2,288.2 493.8,283.8 487.2,278.8 481.2,271.8 471.8,247.2 468.2,241.2 465.2,238.2 462.2,236.8 458.8,237.2 456.8,238.2 452.8,242.8 446.2,256.2 445.2,260.2 445.8,263.8 456.2,279.8 461.2,284.8 468.8,288.2 472.2,291.8 474.2,296.2 476.8,307.2 480.2,313.8 485.2,318.2 505.8,329.2 513.8,336.8 518.2,342.8 523.8,347.8 540.2,356.2 548.2,359.2 551.2,361.8 552.8,365.2 552.8,398.8 551.2,402.8 548.2,405.8 537.2,412.2 527.8,420.2 520.2,431.8 508.8,443.2 507.2,446.8 506.2,455.2 506.2,462.8 505.8,463.2 505.8,478.2 506.8,483.2 508.2,486.2 512.2,490.2 526.2,496.8 530.2,500.2 531.8,503.2 531.8,507.2 529.8,512.2 526.2,515.8 523.8,516.8 519.8,516.8 505.8,513.2 499.8,513.8 492.2,517.8 484.8,524.2 480.8,526.2 475.2,527.8 469.8,531.8 467.2,536.8 464.8,547.8 460.2,560.8 455.8,569.2 449.2,575.8 441.2,580.8 421.2,600.2 418.8,603.8 415.8,610.2 413.2,619.2 412.8,630.2 415.2,629.8 418.2,623.8 423.8,623.8 424.2,623.2 425.8,623.2 434.2,629.8 438.2,629.8 450.8,617.2 454.8,608.8 455.2,602.2 458.8,595.8 473.8,581.8 480.8,578.2 490.8,578.8 499.8,577.8 509.2,575.8 510.2,572.8 510.2,567.8 508.8,563.8 509.2,556.8 514.8,548.2 515.8,541.8 517.2,540.8 520.8,540.2 520.2,531.2 525.2,527.2 528.8,521.8 535.2,517.8 542.8,515.2 548.2,509.2 555.2,504.8 555.2,500.2 553.2,495.8 546.2,491.8 539.2,484.8 535.2,477.8 533.8,468.8 530.8,459.8 531.2,452.2 535.2,443.2 538.2,439.8 544.2,428.2 556.2,411.2 563.8,402.2 568.8,392.2 574.2,386.2 587.8,379.8 588.8,377.2 588.8,372.8 583.2,371.8 581.8,370.2 582.2,368.2 590.2,359.8 594.8,356.2 611.2,350.8 620.2,346.2 642.2,342.2 650.2,339.2 654.8,332.2 670.8,321.8 683.2,315.8 698.8,303.2 701.8,300.2 702.8,294.8 702.8,288.8 701.2,282.8 698.8,278.8 700.8,275.8 701.2,276.2 706.2,276.2 707.8,273.2 707.8,268.8 702.8,267.2 700.2,263.2 700.8,254.8 697.8,254.2 696.2,253.2 696.2,245.8 695.8,245.2 696.2,223.8 699.2,217.8 706.2,210.8 714.8,208.8 720.8,205.8 727.2,198.8 735.8,192.8 741.2,189.8 767.8,189.8 767.8,152.8 746.8,152.8 743.2,154.2 741.8,155.8 738.2,161.8 734.8,170.2 730.2,174.8 723.8,177.8 719.8,178.8 704.2,187.2 695.2,190.2 682.8,192.8 665.2,192.8 660.8,190.2 658.2,185.8 658.2,180.8 660.8,174.8 665.2,167.2 666.2,161.8 663.8,155.8 660.2,150.8 654.8,144.8 652.2,139.2 652.2,104.8 648.8,92.8 647.2,83.2 642.8,74.2 634.2,66.2 631.2,61.8 623.2,53.8 618.8,50.8 614.2,45.8 612.2,40.2 611.8,22.2 609.2,17.8 607.2,15.8Z"/>
<path fill="#ffff0a" fill-rule="evenodd" d="M767.8,752.8 763.2,753.2 759.8,755.2 754.2,761.2 752.8,765.2 752.8,767.8 767.8,767.8ZM758.8,688.8 754.8,690.8 750.8,694.8 748.8,699.8 749.2,702.8 750.8,705.2 760.2,714.8 763.8,716.8 767.8,717.2 767.8,687.8 763.2,687.8ZM337.2,764.8 334.8,759.8 331.2,756.8 326.8,754.2 317.2,751.8 302.2,750.2 288.2,746.8 283.2,744.8 279.8,741.2 279.2,739.8 279.2,722.2 282.2,714.8 284.8,711.8 287.2,710.2 300.2,707.2 291.8,700.2 285.8,692.8 283.2,684.8 282.2,675.8 277.8,675.8 275.8,676.8 268.8,676.2 261.2,679.8 248.2,681.2 245.2,697.8 239.2,712.8 235.8,727.2 225.8,746.8 218.2,765.2 218.2,767.8 337.2,767.8ZM632.2,634.8 620.2,636.8 609.2,636.8 604.8,638.2 593.2,639.2 587.2,642.2 581.8,646.8 573.2,648.8 564.2,653.8 558.8,655.8 553.2,661.8 547.2,665.2 540.8,677.8 535.8,681.2 532.8,679.8 527.2,674.2 522.8,674.2 517.2,676.8 512.8,683.8 511.2,684.8 507.2,685.2 503.8,683.2 499.2,683.2 489.8,689.8 482.2,696.2 479.2,701.8 477.2,708.2 476.2,709.2 469.8,710.2 460.2,717.8 451.2,722.2 442.8,723.8 430.2,721.8 426.2,719.2 421.2,719.2 416.8,720.8 410.8,720.8 404.8,717.8 401.2,711.2 399.8,703.2 392.8,703.2 390.8,709.2 385.8,714.2 380.2,718.2 375.8,718.2 367.8,714.8 367.8,740.8 367.2,743.2 363.8,750.8 354.2,761.8 353.2,763.8 352.8,767.8 445.8,767.8 445.8,764.8 447.2,761.8 452.2,757.2 459.8,753.2 473.2,749.8 481.2,746.2 485.8,745.2 521.8,745.2 525.8,744.2 528.8,742.8 531.8,739.8 532.8,725.2 533.8,723.2 538.8,719.2 543.8,717.2 552.8,715.8 564.2,712.2 581.2,711.8 585.2,709.8 590.8,704.2 598.2,692.2 605.2,684.8 611.2,676.8 616.8,671.2 623.2,666.2 626.8,661.8 629.2,650.2 631.8,643.2ZM757.2,614.8 751.2,615.2 750.8,614.8 744.2,614.8 736.8,613.2 730.8,613.2 722.2,616.2 715.2,619.8 708.8,621.8 703.2,618.8 698.8,618.8 696.2,622.2 693.8,620.2 689.8,619.2 685.2,619.2 666.8,632.8 663.8,632.8 660.2,629.8 653.2,630.2 652.8,630.8 652.8,638.8 654.2,642.2 655.8,643.8 662.2,647.2 676.2,651.2 679.8,651.8 683.8,651.2 691.2,647.2 696.2,642.2 697.2,639.2 697.8,623.8 698.8,621.8 701.2,619.8 703.8,619.8 706.8,622.2 709.8,628.8 714.8,634.2 719.2,636.2 725.2,636.2 733.8,633.8 744.2,631.8 751.2,628.2 754.8,625.2 756.8,621.8ZM520.2,532.2 503.8,528.8 498.8,530.8 493.8,534.2 483.8,539.2 480.8,542.2 479.8,544.2 477.8,563.8 475.2,574.8 472.8,580.8 469.8,584.2 465.8,586.8 455.2,590.2 447.2,591.8 440.8,594.8 432.8,602.8 424.2,615.2 422.2,619.2 421.2,623.8 425.8,623.2 433.2,629.2 438.2,629.8 450.8,617.2 454.8,608.8 455.2,602.2 458.8,595.8 473.8,581.8 480.8,578.2 490.8,578.8 499.8,577.8 509.2,575.8 510.2,572.8 510.2,567.8 508.8,563.8 509.2,556.8 514.8,548.2 515.8,541.8 517.2,540.8 520.8,540.2ZM623.8,476.8 618.2,476.8 612.2,477.8 605.8,480.8 600.8,486.2 599.8,489.8 599.8,494.8 605.2,496.8 614.2,497.2 620.8,490.8 624.2,485.8ZM524.2,453.8 520.8,459.2 519.8,463.2 519.8,479.2 520.8,481.8 525.2,484.8 535.2,487.2 544.8,492.8 549.2,493.2 546.2,491.8 539.2,484.8 535.2,477.8 533.8,468.8 530.8,459.8 531.2,452.2 526.2,452.8ZM715.2,436.2 710.8,434.2 705.8,434.2 704.2,435.2 702.2,433.8 702.2,429.8 701.2,428.2 703.2,426.8 703.2,422.8 690.8,423.8 682.2,427.8 675.8,431.8 655.8,445.8 655.2,450.2 659.2,454.8 663.8,457.8 667.8,457.8 671.8,453.8 674.8,454.2 675.8,456.2 676.2,460.2 679.8,464.8 685.8,465.8 691.2,469.2 695.2,469.2 702.2,463.8 706.2,458.8 709.8,452.8 714.8,447.2ZM726.8,417.2 726.8,422.8 727.8,427.2 731.2,428.2 741.2,428.8 747.8,434.8 751.2,435.8 755.8,435.8 757.2,431.8 757.2,426.8 754.2,420.2 749.8,416.2 735.2,415.8ZM555.2,413.2 543.8,416.8 540.2,418.8 537.2,421.8 536.2,423.8 536.2,428.8 537.8,432.8 540.2,435.8 544.2,428.2ZM111.8,372.8 105.8,395.2 103.2,407.8 103.2,412.8 104.8,413.8 104.8,415.2 98.8,432.2 95.8,437.8 93.8,448.8 85.2,458.2 78.2,460.2 78.2,464.2 81.2,469.2 81.8,474.2 78.2,486.8 74.8,493.8 74.2,497.2 74.2,503.8 78.2,507.2 86.2,507.8 87.2,508.8 87.2,512.2 89.2,515.8 87.2,519.2 87.2,523.2 89.2,525.2 93.8,525.2 106.8,521.2 108.2,522.2 108.2,526.8 109.2,531.8 108.2,540.8 105.2,546.2 105.2,550.8 108.2,554.8 107.8,566.8 107.2,567.2 107.8,583.2 103.2,597.8 98.8,605.2 98.8,609.8 100.8,613.2 105.2,613.2 114.2,608.8 117.8,605.8 120.2,605.2 142.2,608.2 153.8,615.2 157.8,615.2 163.8,611.8 172.2,604.8 181.2,600.8 184.2,600.2 195.2,600.8 200.2,599.2 205.2,604.2 212.8,608.8 221.8,616.2 225.2,623.2 224.8,631.2 232.2,637.2 232.2,641.2 242.8,658.8 251.8,666.2 264.8,673.2 269.2,673.2 275.2,670.8 277.8,666.8 277.8,664.2 282.2,663.8 284.2,661.2 287.8,653.2 291.2,648.2 299.8,644.2 305.8,642.8 314.8,641.8 323.8,635.8 327.2,631.2 348.8,627.8 359.2,628.8 370.8,631.2 376.2,631.2 380.8,628.8 383.8,628.2 382.8,624.2 379.2,622.2 324.8,618.2 321.2,619.8 314.2,626.2 308.2,629.2 300.8,631.2 283.2,632.2 277.8,629.8 275.2,627.2 273.2,623.2 273.8,617.8 276.8,612.2 280.2,608.8 290.2,603.2 304.8,598.2 313.8,593.8 325.2,585.8 341.2,577.8 361.2,558.2 379.2,548.8 382.2,545.8 382.8,542.2 378.8,538.2 361.2,532.8 284.8,532.8 282.2,533.2 277.8,535.8 270.2,543.2 264.2,546.8 252.2,549.2 240.2,552.8 205.8,552.8 200.2,550.2 194.8,544.8 192.2,539.2 192.2,512.8 192.8,512.2 280.2,512.2 282.8,511.8 287.2,509.2 290.2,505.8 291.2,501.2 288.8,492.8 286.2,480.2 283.8,475.8 280.2,473.2 278.8,472.8 244.8,472.8 242.2,473.2 237.8,475.8 235.2,478.2 230.2,486.8 225.8,490.8 220.2,492.8 204.8,492.8 202.2,493.2 197.8,495.8 194.8,499.2 193.2,502.8 192.2,512.8 145.8,512.8 140.2,510.2 135.2,505.2 134.2,503.2 134.2,499.8 137.8,495.2 146.8,489.8 149.2,487.2 151.8,482.8 152.2,480.2 151.8,462.2 149.2,457.8 146.8,455.2 138.2,450.2 134.8,446.8 130.2,438.2 127.8,427.8 127.8,417.2 131.2,404.2 131.2,400.8 128.8,392.8 126.2,380.2 122.2,374.2 118.8,372.8ZM702.8,292.8 685.2,293.2 681.8,296.2 677.2,303.2 672.8,307.8 666.8,311.2 661.2,312.8 645.2,312.8 639.2,315.2 632.8,319.8 627.8,324.2 620.8,336.2 616.2,340.8 604.2,348.8 598.2,355.2 611.2,350.8 620.2,346.2 642.2,342.2 650.2,339.2 654.8,332.2 670.8,321.8 683.2,315.8 698.8,303.2 701.8,300.2ZM471.8,179.8 471.8,181.8 473.8,183.8 479.8,186.2 485.2,186.2 488.2,184.8 490.2,182.2 490.2,179.8 488.8,177.2 485.8,174.8 483.2,173.8 478.8,174.2 475.8,175.8ZM482.8,113.2 480.8,113.2 478.2,126.2 477.2,140.8 474.8,152.2 480.2,152.2 485.8,150.2 489.2,147.2 491.8,142.8 492.2,140.2 491.8,122.2 489.2,117.8 487.2,115.8Z"/>
<path fill="#ffff80" fill-rule="evenodd" d="M467.2,712.2 463.2,715.8 456.2,720.2 447.8,723.2 442.8,723.8 432.2,722.2 426.2,719.2 421.2,719.2 416.8,720.8 412.8,720.8 412.2,742.8 409.8,747.2 406.8,750.2 398.2,755.2 395.8,757.8 393.2,762.2 392.8,767.8 427.2,767.8 427.2,763.8 428.2,760.2 432.8,755.2 442.8,751.8 451.8,747.2 459.8,744.8 464.8,742.2 466.8,739.8 467.2,737.8ZM272.2,676.2 268.8,676.2 261.2,679.8 248.2,681.2 245.2,697.8 239.2,712.8 235.8,727.2 225.8,746.8 218.2,765.2 218.2,767.8 311.8,767.8 311.2,765.2 309.2,763.2 306.2,761.8 291.2,757.2 281.8,755.2 273.8,751.8 267.8,746.2 266.2,743.2 265.2,738.2 265.8,714.8 267.8,697.2 269.2,690.2 271.8,683.2ZM591.8,642.2 590.2,640.8 585.8,643.2 581.8,646.8 573.2,648.8 564.2,653.8 558.8,655.8 553.2,661.8 547.2,665.2 540.8,677.8 535.8,681.2 532.8,679.8 527.2,674.2 522.8,674.2 517.2,676.8 512.2,684.2 509.8,685.2 507.2,685.2 503.8,683.2 499.2,683.2 489.8,689.8 485.2,694.2 487.2,695.2 490.2,698.2 495.2,706.8 497.8,709.2 501.2,711.2 505.8,711.8 518.8,708.8 526.8,705.2 537.2,699.2 549.8,694.8 562.2,692.2 578.2,692.2 579.8,691.8 583.8,688.2 586.2,683.8 587.8,679.2 589.2,670.2 591.8,663.2 592.2,660.2ZM324.8,634.2 321.2,633.8 312.8,636.2 302.2,637.8 295.2,639.8 292.2,641.2 289.2,644.8 290.2,649.2 299.8,644.2 305.8,642.8 314.8,641.8 323.8,635.8ZM454.8,607.8 446.2,607.8 442.8,609.2 439.2,612.8 435.8,617.8 433.2,622.8 432.8,628.8 434.2,629.8 438.2,629.8 450.8,617.2ZM325.8,554.8 321.2,553.8 312.8,556.2 304.2,557.8 285.2,557.8 279.8,559.2 274.8,562.2 266.8,570.2 260.8,573.8 252.8,576.2 243.2,577.8 236.2,580.8 226.8,590.2 218.2,595.2 213.2,601.2 210.2,607.2 221.8,616.2 225.2,623.2 224.8,631.2 232.2,637.2 232.2,641.2 242.8,658.8 251.8,666.2 264.8,673.2 269.2,673.2 272.2,671.8 271.8,662.2 269.2,657.8 266.8,655.2 258.2,650.2 254.8,646.8 249.8,638.2 246.8,635.2 239.8,631.2 235.2,627.2 233.8,624.2 233.8,620.8 235.2,617.8 239.8,613.8 246.8,609.8 249.8,606.8 254.8,598.2 258.2,594.8 264.2,591.2 277.2,587.8 293.8,585.8 298.8,585.8 304.2,583.8 307.2,580.8 310.2,574.8 314.8,570.2 326.8,564.8 329.2,562.2 329.8,559.2 328.2,556.8ZM77.8,487.8 74.8,493.8 74.2,503.8 78.2,507.2 86.2,507.8 87.2,508.8 87.2,512.2 89.2,515.8 87.2,519.2 87.2,523.2 89.2,525.2 93.8,525.2 96.8,524.2 97.8,517.2 97.8,503.8 96.2,500.2 93.2,496.2 87.8,491.2 83.8,488.8ZM726.8,417.2 726.8,422.8 727.8,427.2 731.2,428.2 741.2,428.8 747.8,434.8 751.2,435.8 755.8,435.8 757.2,431.8 757.2,426.8 754.2,420.2 749.8,416.2 735.2,415.8Z"/>
<path fill="#ffe850" fill-rule="evenodd" d="M218.2,765.2 218.2,767.8 252.2,767.8 251.8,763.8 249.8,760.2 244.8,755.2 239.2,752.8 223.8,752.8Z"/>
<path fill="#ffff80" d="M674.0,632.0 680.0,626.0 686.0,621.5 691.0,621.0 697.0,626.5 690.0,633.0 681.0,637.5Z"/>
<path fill="#ffff80" d="M290.0,632.0 296.0,632.0 296.0,628.5 311.7,628.5 311.7,641.0 300.0,641.5 290.0,643.5Z"/>
<path fill="#66ff00" d="M405.0,598.0 415.0,600.0 415.0,622.0 405.0,622.0Z"/>
<path fill="#66ff66" d="M389.5,600.0 405.0,598.0 405.0,622.0 389.5,622.0Z"/>
<path fill="#66ff99" d="M384.0,603.0 389.5,601.0 389.5,622.0 384.0,622.0Z"/>
<path fill="#66ffff" d="M533.9,234.7 541.7,232.1 552.1,232.1 562.5,234.7 575.5,236.0 585.9,236.0 596.4,242.6 600.3,249.1 597.7,255.6 588.5,258.2 578.1,255.6 567.7,253.0 563.8,247.8 565.1,246.5 559.9,242.6 546.9,241.2 536.5,240.0Z"/>
<path fill="#66ffff" d="M614.6,247.8 625.0,246.5 640.6,250.4 654.9,253.0 653.6,256.9 640.6,258.2 625.0,258.2 615.9,255.6Z"/>
<path fill="#0080ff" fill-rule="evenodd" d="M-5,-5H775V775H-5ZM484.8,-2.0 484.8,0.0 482.7,6.2 489.0,11.5 490.4,18.8 489.0,25.0 484.8,31.2 482.7,37.5 484.8,40.6 492.1,46.9 500.4,55.2 506.7,61.5 508.8,70.8 510.8,80.2 514.0,86.5 508.8,80.2 505.6,70.8 502.5,62.5 495.2,56.2 490.0,47.9 486.2,53.1 485.4,72.9 484.2,87.5 482.7,102.1 482.7,108.3 489.0,106.7 492.1,110.4 486.9,112.5 482.7,114.6 480.6,125.0 479.2,141.7 475.8,157.1 472.7,171.7 470.6,182.1 466.5,191.5 460.2,197.7 455.0,198.8 446.7,201.9 438.3,204.0 430.0,203.3 421.7,200.8 413.3,196.7 406.0,195.0 398.8,196.2 392.5,199.8 386.2,198.8 380.0,196.0 374.2,194.6 369.0,190.4 363.8,191.0 357.5,193.1 353.3,191.7 345.0,194.6 336.7,196.7 328.3,197.9 320.0,197.9 311.7,196.7 303.3,194.6 295.0,193.1 286.7,192.1 282.5,189.6 274.2,187.5 264.8,187.5 260.6,184.8 255.4,179.2 249.2,183.8 240.8,185.8 235.6,184.2 228.3,186.2 220.0,187.5 215.8,186.7 195.0,188.1 184.6,185.0 182.5,180.8 174.2,176.7 165.8,172.9 161.7,174.6 155.4,174.2 154.4,177.7 147.0,176.7 140.8,182.9 133.5,187.1 133.1,194.4 140.8,193.3 137.7,198.5 132.5,198.5 122.0,202.7 111.7,204.8 107.5,201.7 101.3,204.8 102.3,209.0 90.8,213.1 88.8,220.4 85.6,222.5 86.7,230.8 90.8,228.8 94.0,236.0 97.0,240.2 106.5,237.0 101.3,243.3 96.0,253.8 99.2,257.9 105.4,249.6 110.6,248.5 111.7,252.7 106.5,259.0 102.3,260.0 103.3,266.2 114.8,263.1 111.7,268.3 104.4,273.5 105.4,276.7 119.0,268.3 119.0,273.5 111.7,280.8 105.4,285.0 106.5,297.5 106.2,300.0 109.0,314.6 111.0,329.2 114.2,339.6 116.2,350.0 116.7,358.3 114.6,370.8 111.0,383.3 107.5,397.9 104.8,410.4 107.9,411.5 104.8,420.8 100.6,433.3 97.5,440.0 95.4,450.4 87.1,459.8 79.8,461.9 82.9,467.1 83.3,475.4 79.8,487.9 76.7,496.2 76.2,501.5 79.8,505.0 87.1,505.6 91.2,506.7 89.2,509.8 92.3,516.0 89.2,521.2 91.2,522.9 104.8,519.2 106.9,517.5 110.0,520.2 113.1,517.1 115.2,521.2 110.0,522.3 111.0,531.7 110.0,542.1 106.9,548.3 110.0,552.5 109.6,565.0 108.8,572.5 109.8,582.9 107.5,591.2 104.5,600.6 100.4,606.9 102.5,611.0 110.8,606.9 117.1,602.7 131.7,604.4 144.2,605.8 150.4,610.0 155.6,613.1 161.9,609.0 170.2,602.7 179.6,598.5 187.9,597.5 192.1,598.5 198.3,597.1 200.4,595.4 206.7,601.7 215.0,606.9 223.3,614.2 227.5,622.5 226.5,628.8 233.8,635.0 237.9,640.2 233.8,639.2 238.5,646.7 244.8,657.1 253.1,663.3 260.4,667.5 266.7,671.0 272.9,668.5 275.4,664.4 274.6,661.2 278.1,660.2 280.2,661.7 282.3,658.1 284.4,652.9 288.5,646.7 295.8,642.5 304.2,640.4 312.5,639.4 315.6,637.3 321.9,633.1 325.0,629.0 333.3,627.5 340.0,626.7 348.3,625.6 355.6,626.2 362.9,627.1 373.3,628.8 378.5,626.7 384.8,625.6 400.4,626.7 406.7,629.2 412.9,627.7 416.0,621.5 427.5,621.0 431.7,624.6 435.8,627.7 439.0,624.6 444.2,619.4 448.3,615.2 452.5,605.8 453.2,600.0 457.1,593.1 464.4,585.8 471.7,579.6 480.0,575.4 486.2,576.5 496.7,575.4 507.1,573.3 508.1,570.2 506.0,562.9 507.1,554.6 512.3,546.2 513.3,539.0 518.5,537.9 517.5,529.6 522.7,525.4 525.8,520.2 532.1,516.0 540.4,512.9 545.6,507.7 552.9,502.5 550.8,497.3 543.5,493.1 537.3,486.9 533.1,479.6 531.0,469.2 527.9,458.8 529.0,450.4 532.5,442.0 535.4,437.9 542.7,425.4 550.0,415.0 556.2,406.7 562.5,398.3 566.7,390.0 571.9,383.8 580.2,380.0 585.4,377.5 586.5,374.4 581.2,373.3 578.1,371.2 580.2,366.0 585.4,359.8 591.7,354.6 600.0,351.5 608.3,348.3 616.7,344.6 629.2,342.1 641.7,339.6 647.9,336.9 652.1,330.6 660.0,324.8 670.5,318.3 679.9,313.8 686.1,309.6 693.4,303.3 699.7,298.1 700.7,290.8 698.6,283.5 695.5,278.3 698.6,273.1 703.8,274.2 705.5,270.4 700.7,269.0 697.6,263.8 698.6,256.5 693.8,255.4 693.4,238.8 693.8,222.1 697.6,214.8 703.8,208.5 712.2,206.5 718.4,203.3 724.7,197.1 733.0,190.8 739.2,187.7 749.7,187.7 770.0,187.7 770.0,-2.0ZM220.0,770.0 220.0,768.0 227.5,749.0 237.1,730.0 241.7,713.3 246.9,698.8 250.0,683.1 262.5,681.7 270.8,677.9 275.0,679.0 280.2,677.5 281.2,686.2 283.3,694.6 288.5,700.8 295.8,707.1 302.1,712.3 308.3,717.5 316.7,719.6 325.0,721.7 333.3,720.6 336.2,718.1 342.5,716.0 348.8,715.0 350.8,718.1 357.1,719.2 361.2,714.0 366.5,717.1 373.8,720.2 382.1,720.2 388.3,715.0 392.5,710.8 394.6,705.0 397.7,705.0 398.8,712.9 402.9,720.2 409.2,722.3 417.5,722.3 423.8,721.2 427.9,723.3 434.2,724.4 442.5,725.4 448.8,725.0 457.1,722.3 465.4,717.1 471.7,711.9 478.3,710.8 481.5,702.5 484.6,697.3 490.8,692.1 497.1,687.5 501.2,684.8 507.5,687.9 513.8,685.8 519.0,678.5 525.2,675.8 530.4,681.7 535.6,684.2 541.9,680.0 546.0,673.3 549.2,667.1 555.4,662.9 560.6,657.7 567.9,654.6 575.2,650.4 583.5,648.3 588.8,643.8 595.0,641.0 605.4,640.0 611.7,638.3 620.5,638.3 633.0,636.7 645.5,634.6 658.0,631.7 662.2,635.2 668.4,634.6 674.7,630.0 680.9,624.8 687.2,621.2 692.4,622.7 696.5,625.8 700.7,620.6 708.0,623.8 716.3,621.7 724.7,617.9 733.0,615.0 743.4,616.5 753.8,617.1 762.2,616.5 770.0,617.5 770.0,770.0ZM657.2,448.2 666.5,441.7 675.7,434.8 685.0,429.0 693.1,425.5 700.8,424.3 696.6,427.8 700.1,431.3 698.9,434.8 703.6,438.2 708.2,435.9 712.8,438.2 712.4,445.2 708.2,449.8 703.6,456.8 698.9,462.6 693.1,467.2 687.3,463.7 681.5,462.6 678.1,457.9 676.9,452.1 670.0,451.0 665.3,455.6 660.7,452.1ZM728.6,419.0 738.3,417.4 747.6,418.1 752.2,422.0 755.0,429.0 753.4,433.6 748.7,432.0 743.0,426.7 733.7,426.0 729.5,425.0ZM602.7,488.1 607.4,482.3 614.3,479.3 621.3,478.3 622.0,483.4 617.8,489.2 612.0,495.0 605.1,493.9 601.6,492.7Z"/>
<path fill="#0080ff" d="M96.0,494.0 99.5,493.5 102.0,496.0 101.5,500.0 99.0,504.0 95.5,505.5 94.0,503.0 94.5,498.0Z"/>
<path fill="#001040" d="M311.7,636.0 315.0,636.0 315.0,640.0 311.7,641.7Z"/>
<path fill="#001040" d="M100.4,606.9 102.5,611.0 110.8,606.9 103.5,604.8Z"/>
<path fill="#001040" d="M145.2,605.8 161.9,606.9 155.6,613.1Z"/>
<path fill="#001040" d="M187.9,590.2 199.8,590.2 199.8,597.5 187.9,597.5Z"/>
<path fill="#001040" d="M384.8,621.0 416.0,621.0 412.9,628.8 402.5,628.8 400.4,626.2 384.8,626.2Z"/>
<path fill="#001040" d="M744.5,187.7 764.2,187.7 764.2,193.0 750.0,194.5Z"/>
<path fill="#001040" d="M691.3,220.0 693.8,220.0 693.8,236.7 691.3,236.7Z"/>
<path fill="#001040" d="M465.0,0.0 471.2,1.0 480.6,4.2 479.6,8.3 469.2,5.2Z"/>
<path fill="#001040" d="M472.3,14.6 478.5,15.6 482.7,19.8 483.8,29.2 480.6,30.2 474.4,22.9Z"/>
<path fill="#001040" d="M85.6,222.5 88.8,220.4 90.8,228.8 86.7,230.8Z"/>
<path fill="#001040" d="M94.0,236.0 106.5,237.0 101.3,243.3 96.0,253.8 95.0,245.0Z"/>
<g font-family="Liberation Sans, sans-serif" font-size="8.5" text-anchor="start" fill="#000" fill-opacity="0.9" stroke="#000" stroke-opacity="0.9" stroke-width="0.14" shape-rendering="auto" text-rendering="geometricPrecision">
<text x="500.1" y="5.6">8</text>
<text x="520.1" y="5.6">7</text>
<text x="540.1" y="5.6">7</text>
<text x="560.1" y="5.6">7</text>
<text x="580.1" y="5.6">7</text>
<text x="600.1" y="5.6">7</text>
<text x="620.1" y="5.6">7</text>
<text x="640.1" y="5.6">7</text>
<text x="660.1" y="5.6">7</text>
<text x="680.1" y="5.6">6</text>
<text x="700.1" y="5.6">7</text>
<text x="720.1" y="5.6">7</text>
<text x="740.1" y="5.6">7</text>
<text x="760.1" y="5.6">7</text>
<text x="500.1" y="25.6">8</text>
<text x="500.1" y="45.6">8</text>
<text x="520.1" y="45.6">8</text>
<text x="540.1" y="45.6">8</text>
<text x="560.1" y="45.6">8</text>
<text x="580.1" y="45.6">8</text>
<text x="600.1" y="45.6">8</text>
<text x="620.1" y="45.6">7</text>
<text x="640.1" y="45.6">6</text>
<text x="660.1" y="45.6">6</text>
<text x="680.1" y="45.6">5</text>
<text x="700.1" y="45.6">7</text>
<text x="720.1" y="45.6">5</text>
<text x="740.1" y="45.6">5</text>
<text x="760.1" y="45.6">6</text>
<text x="520.1" y="65.6">8</text>
<text x="540.1" y="65.6">8</text>
<text x="560.1" y="65.6">8</text>
<text x="580.1" y="65.6">8</text>
<text x="600.1" y="65.6">8</text>
<text x="620.1" y="65.6">8</text>
<text x="640.1" y="65.6">7</text>
<text x="660.1" y="65.6">6</text>
<text x="680.1" y="65.6">4</text>
<text x="700.1" y="65.6">5</text>
<text x="720.1" y="65.6">5</text>
<text x="740.1" y="65.6">5</text>
<text x="760.1" y="65.6">4</text>
<text x="500.1" y="85.6">9</text>
<text x="520.1" y="85.6">9</text>
<text x="540.1" y="85.6">9</text>
<text x="560.1" y="85.6">9</text>
<text x="580.1" y="85.6">8</text>
<text x="600.1" y="85.6">8</text>
<text x="620.1" y="85.6">8</text>
<text x="640.1" y="85.6">8</text>
<text x="660.1" y="85.6">6</text>
<text x="680.1" y="85.6">4</text>
<text x="700.1" y="85.6">4</text>
<text x="720.1" y="85.6">4</text>
<text x="740.1" y="85.6">4</text>
<text x="760.1" y="85.6">4</text>
<text x="500.1" y="105.6">9</text>
<text x="520.1" y="105.6">9</text>
<text x="540.1" y="105.6">9</text>
<text x="560.1" y="105.6">8</text>
<text x="580.1" y="105.6">8</text>
<text x="600.1" y="105.6">8</text>
<text x="620.1" y="105.6">8</text>
<text x="640.1" y="105.6">8</text>
<text x="660.1" y="105.6">7</text>
<text x="680.1" y="105.6">5</text>
<text x="700.1" y="105.6">4</text>
<text x="720.1" y="105.6">3</text>
<text x="740.1" y="105.6">3</text>
<text x="760.1" y="105.6">5</text>
<text x="500.1" y="125.6">9</text>
<text x="520.1" y="125.6">9</text>
<text x="540.1" y="125.6">9</text>
<text x="560.1" y="125.6">9</text>
<text x="580.1" y="125.6">8</text>
<text x="600.1" y="125.6">8</text>
<text x="620.1" y="125.6">8</text>
<text x="640.1" y="125.6">8</text>
<text x="660.1" y="125.6">7</text>
<text x="680.1" y="125.6">6</text>
<text x="700.1" y="125.6">5</text>
<text x="720.1" y="125.6">4</text>
<text x="740.1" y="125.6">5</text>
<text x="760.1" y="125.6">6</text>
<text x="480.1" y="145.6">10</text>
<text x="500.1" y="145.6">9</text>
<text x="520.1" y="145.6">9</text>
<text x="540.1" y="145.6">9</text>
<text x="560.1" y="145.6">9</text>
<text x="580.1" y="145.6">9</text>
<text x="600.1" y="145.6">9</text>
<text x="620.1" y="145.6">9</text>
<text x="640.1" y="145.6">8</text>
<text x="660.1" y="145.6">7</text>
<text x="680.1" y="145.6">5</text>
<text x="700.1" y="145.6">5</text>
<text x="720.1" y="145.6">5</text>
<text x="740.1" y="145.6">7</text>
<text x="760.1" y="145.6">7</text>
<text x="480.1" y="165.6">9</text>
<text x="500.1" y="165.6">9</text>
<text x="520.1" y="165.6">9</text>
<text x="540.1" y="165.6">9</text>
<text x="560.1" y="165.6">9</text>
<text x="580.1" y="165.6">9</text>
<text x="600.1" y="165.6">9</text>
<text x="620.1" y="165.6">9</text>
<text x="640.1" y="165.6">9</text>
<text x="660.1" y="165.6">8</text>
<text x="680.1" y="165.6">6</text>
<text x="700.1" y="165.6">6</text>
<text x="720.1" y="165.6">6</text>
<text x="740.1" y="165.6">8</text>
<text x="760.1" y="165.6">8</text>
<text x="160.1" y="185.6">8</text>
<text x="480.1" y="185.6">10</text>
<text x="500.1" y="185.6">9</text>
<text x="520.1" y="185.6">9</text>
<text x="540.1" y="185.6">9</text>
<text x="560.1" y="185.6">9</text>
<text x="580.1" y="185.6">9</text>
<text x="600.1" y="185.6">9</text>
<text x="620.1" y="185.6">9</text>
<text x="640.1" y="185.6">9</text>
<text x="660.1" y="185.6">7</text>
<text x="680.1" y="185.6">6</text>
<text x="700.1" y="185.6">7</text>
<text x="720.1" y="185.6">8</text>
<text x="740.1" y="185.6">8</text>
<text x="760.1" y="185.6">9</text>
<text x="140.1" y="205.6">8</text>
<text x="160.1" y="205.6">7</text>
<text x="180.1" y="205.6">7</text>
<text x="200.1" y="205.6">7</text>
<text x="220.1" y="205.6">6</text>
<text x="240.1" y="205.6">7</text>
<text x="260.1" y="205.6">8</text>
<text x="280.1" y="205.6">6</text>
<text x="300.1" y="205.6">4</text>
<text x="320.1" y="205.6">6</text>
<text x="340.1" y="205.6">8</text>
<text x="360.1" y="205.6">8</text>
<text x="380.1" y="205.6">8</text>
<text x="400.1" y="205.6">9</text>
<text x="420.1" y="205.6">9</text>
<text x="460.1" y="205.6">8</text>
<text x="480.1" y="205.6">8</text>
<text x="500.1" y="205.6">9</text>
<text x="520.1" y="205.6">9</text>
<text x="540.1" y="205.6">8</text>
<text x="560.1" y="205.6">8</text>
<text x="580.1" y="205.6">8</text>
<text x="600.1" y="205.6">8</text>
<text x="620.1" y="205.6">8</text>
<text x="640.1" y="205.6">8</text>
<text x="660.1" y="205.6">8</text>
<text x="680.1" y="205.6">9</text>
<text x="700.1" y="205.6">9</text>
<text x="720.1" y="205.6">9</text>
<text x="100.1" y="225.6">8</text>
<text x="120.1" y="225.6">8</text>
<text x="140.1" y="225.6">8</text>
<text x="160.1" y="225.6">7</text>
<text x="180.1" y="225.6">6</text>
<text x="200.1" y="225.6">6</text>
<text x="220.1" y="225.6">4</text>
<text x="240.1" y="225.6">3</text>
<text x="260.1" y="225.6">3</text>
<text x="280.1" y="225.6">3</text>
<text x="300.1" y="225.6">4</text>
<text x="320.1" y="225.6">3</text>
<text x="340.1" y="225.6">3</text>
<text x="360.1" y="225.6">5</text>
<text x="380.1" y="225.6">6</text>
<text x="400.1" y="225.6">7</text>
<text x="420.1" y="225.6">7</text>
<text x="440.1" y="225.6">7</text>
<text x="460.1" y="225.6">6</text>
<text x="480.1" y="225.6">5</text>
<text x="500.1" y="225.6">4</text>
<text x="520.1" y="225.6">5</text>
<text x="540.1" y="225.6">4</text>
<text x="560.1" y="225.6">4</text>
<text x="580.1" y="225.6">6</text>
<text x="600.1" y="225.6">7</text>
<text x="620.1" y="225.6">7</text>
<text x="640.1" y="225.6">8</text>
<text x="660.1" y="225.6">7</text>
<text x="680.1" y="225.6">8</text>
<text x="120.1" y="245.6">8</text>
<text x="140.1" y="245.6">7</text>
<text x="160.1" y="245.6">6</text>
<text x="180.1" y="245.6">6</text>
<text x="200.1" y="245.6">4</text>
<text x="220.1" y="245.6">3</text>
<text x="240.1" y="245.6">3</text>
<text x="260.1" y="245.6">3</text>
<text x="280.1" y="245.6">3</text>
<text x="300.1" y="245.6">3</text>
<text x="320.1" y="245.6">2</text>
<text x="340.1" y="245.6">3</text>
<text x="360.1" y="245.6">4</text>
<text x="380.1" y="245.6">5</text>
<text x="400.1" y="245.6">5</text>
<text x="420.1" y="245.6">6</text>
<text x="440.1" y="245.6">6</text>
<text x="460.1" y="245.6">8</text>
<text x="480.1" y="245.6">6</text>
<text x="500.1" y="245.6">4</text>
<text x="520.1" y="245.6">2</text>
<text x="540.1" y="245.6">1</text>
<text x="560.1" y="245.6">1</text>
<text x="580.1" y="245.6">1</text>
<text x="600.1" y="245.6">2</text>
<text x="620.1" y="245.6">2</text>
<text x="640.1" y="245.6">3</text>
<text x="660.1" y="245.6">5</text>
<text x="680.1" y="245.6">9</text>
<text x="120.1" y="265.6">8</text>
<text x="140.1" y="265.6">7</text>
<text x="160.1" y="265.6">7</text>
<text x="180.1" y="265.6">5</text>
<text x="200.1" y="265.6">4</text>
<text x="220.1" y="265.6">3</text>
<text x="240.1" y="265.6">3</text>
<text x="260.1" y="265.6">3</text>
<text x="280.1" y="265.6">3</text>
<text x="300.1" y="265.6">3</text>
<text x="320.1" y="265.6">3</text>
<text x="340.1" y="265.6">3</text>
<text x="360.1" y="265.6">3</text>
<text x="380.1" y="265.6">4</text>
<text x="400.1" y="265.6">5</text>
<text x="420.1" y="265.6">6</text>
<text x="440.1" y="265.6">7</text>
<text x="460.1" y="265.6">9</text>
<text x="480.1" y="265.6">7</text>
<text x="500.1" y="265.6">5</text>
<text x="520.1" y="265.6">4</text>
<text x="540.1" y="265.6">4</text>
<text x="560.1" y="265.6">3</text>
<text x="580.1" y="265.6">2</text>
<text x="600.1" y="265.6">2</text>
<text x="620.1" y="265.6">2</text>
<text x="640.1" y="265.6">2</text>
<text x="660.1" y="265.6">4</text>
<text x="680.1" y="265.6">8</text>
<text x="120.1" y="285.6">8</text>
<text x="140.1" y="285.6">7</text>
<text x="160.1" y="285.6">6</text>
<text x="180.1" y="285.6">5</text>
<text x="200.1" y="285.6">3</text>
<text x="220.1" y="285.6">3</text>
<text x="240.1" y="285.6">4</text>
<text x="260.1" y="285.6">4</text>
<text x="280.1" y="285.6">4</text>
<text x="300.1" y="285.6">4</text>
<text x="320.1" y="285.6">4</text>
<text x="340.1" y="285.6">3</text>
<text x="360.1" y="285.6">3</text>
<text x="380.1" y="285.6">3</text>
<text x="400.1" y="285.6">3</text>
<text x="420.1" y="285.6">3</text>
<text x="440.1" y="285.6">5</text>
<text x="460.1" y="285.6">8</text>
<text x="480.1" y="285.6">8</text>
<text x="500.1" y="285.6">7</text>
<text x="520.1" y="285.6">6</text>
<text x="540.1" y="285.6">5</text>
<text x="560.1" y="285.6">5</text>
<text x="580.1" y="285.6">4</text>
<text x="600.1" y="285.6">4</text>
<text x="620.1" y="285.6">4</text>
<text x="640.1" y="285.6">4</text>
<text x="660.1" y="285.6">6</text>
<text x="680.1" y="285.6">9</text>
<text x="120.1" y="305.6">9</text>
<text x="140.1" y="305.6">7</text>
<text x="160.1" y="305.6">5</text>
<text x="180.1" y="305.6">6</text>
<text x="200.1" y="305.6">5</text>
<text x="220.1" y="305.6">5</text>
<text x="240.1" y="305.6">4</text>
<text x="260.1" y="305.6">4</text>
<text x="280.1" y="305.6">4</text>
<text x="300.1" y="305.6">4</text>
<text x="320.1" y="305.6">4</text>
<text x="340.1" y="305.6">3</text>
<text x="360.1" y="305.6">3</text>
<text x="380.1" y="305.6">3</text>
<text x="400.1" y="305.6">3</text>
<text x="420.1" y="305.6">2</text>
<text x="440.1" y="305.6">3</text>
<text x="460.1" y="305.6">5</text>
<text x="480.1" y="305.6">9</text>
<text x="500.1" y="305.6">9</text>
<text x="520.1" y="305.6">7</text>
<text x="540.1" y="305.6">7</text>
<text x="560.1" y="305.6">6</text>
<text x="580.1" y="305.6">6</text>
<text x="600.1" y="305.6">6</text>
<text x="620.1" y="305.6">5</text>
<text x="640.1" y="305.6">8</text>
<text x="660.1" y="305.6">8</text>
<text x="680.1" y="305.6">10</text>
<text x="120.1" y="325.6">9</text>
<text x="140.1" y="325.6">8</text>
<text x="160.1" y="325.6">6</text>
<text x="180.1" y="325.6">7</text>
<text x="200.1" y="325.6">7</text>
<text x="220.1" y="325.6">5</text>
<text x="240.1" y="325.6">4</text>
<text x="260.1" y="325.6">4</text>
<text x="280.1" y="325.6">4</text>
<text x="300.1" y="325.6">4</text>
<text x="320.1" y="325.6">4</text>
<text x="340.1" y="325.6">3</text>
<text x="360.1" y="325.6">3</text>
<text x="380.1" y="325.6">3</text>
<text x="400.1" y="325.6">3</text>
<text x="420.1" y="325.6">2</text>
<text x="440.1" y="325.6">3</text>
<text x="460.1" y="325.6">5</text>
<text x="480.1" y="325.6">7</text>
<text x="500.1" y="325.6">8</text>
<text x="520.1" y="325.6">9</text>
<text x="540.1" y="325.6">8</text>
<text x="560.1" y="325.6">7</text>
<text x="580.1" y="325.6">6</text>
<text x="600.1" y="325.6">6</text>
<text x="620.1" y="325.6">9</text>
<text x="640.1" y="325.6">11</text>
<text x="660.1" y="325.6">11</text>
<text x="120.1" y="345.6">9</text>
<text x="140.1" y="345.6">9</text>
<text x="160.1" y="345.6">7</text>
<text x="180.1" y="345.6">7</text>
<text x="200.1" y="345.6">8</text>
<text x="220.1" y="345.6">5</text>
<text x="240.1" y="345.6">4</text>
<text x="260.1" y="345.6">3</text>
<text x="280.1" y="345.6">4</text>
<text x="300.1" y="345.6">4</text>
<text x="320.1" y="345.6">4</text>
<text x="340.1" y="345.6">3</text>
<text x="360.1" y="345.6">3</text>
<text x="380.1" y="345.6">2</text>
<text x="400.1" y="345.6">3</text>
<text x="420.1" y="345.6">2</text>
<text x="440.1" y="345.6">3</text>
<text x="460.1" y="345.6">4</text>
<text x="480.1" y="345.6">5</text>
<text x="500.1" y="345.6">6</text>
<text x="520.1" y="345.6">8</text>
<text x="540.1" y="345.6">9</text>
<text x="560.1" y="345.6">8</text>
<text x="580.1" y="345.6">6</text>
<text x="600.1" y="345.6">9</text>
<text x="620.1" y="345.6">10</text>
<text x="640.1" y="345.6">11</text>
<text x="120.1" y="365.6">9</text>
<text x="140.1" y="365.6">8</text>
<text x="160.1" y="365.6">6</text>
<text x="180.1" y="365.6">6</text>
<text x="200.1" y="365.6">7</text>
<text x="220.1" y="365.6">5</text>
<text x="240.1" y="365.6">4</text>
<text x="260.1" y="365.6">4</text>
<text x="280.1" y="365.6">4</text>
<text x="300.1" y="365.6">3</text>
<text x="320.1" y="365.6">3</text>
<text x="340.1" y="365.6">3</text>
<text x="360.1" y="365.6">4</text>
<text x="380.1" y="365.6">4</text>
<text x="400.1" y="365.6">3</text>
<text x="420.1" y="365.6">3</text>
<text x="440.1" y="365.6">2</text>
<text x="460.1" y="365.6">3</text>
<text x="480.1" y="365.6">3</text>
<text x="500.1" y="365.6">4</text>
<text x="520.1" y="365.6">6</text>
<text x="540.1" y="365.6">7</text>
<text x="560.1" y="365.6">8</text>
<text x="580.1" y="365.6">9</text>
<text x="120.1" y="385.6">10</text>
<text x="140.1" y="385.6">8</text>
<text x="160.1" y="385.6">7</text>
<text x="180.1" y="385.6">5</text>
<text x="200.1" y="385.6">5</text>
<text x="220.1" y="385.6">5</text>
<text x="240.1" y="385.6">5</text>
<text x="260.1" y="385.6">4</text>
<text x="280.1" y="385.6">3</text>
<text x="300.1" y="385.6">3</text>
<text x="320.1" y="385.6">3</text>
<text x="340.1" y="385.6">5</text>
<text x="360.1" y="385.6">7</text>
<text x="380.1" y="385.6">5</text>
<text x="400.1" y="385.6">4</text>
<text x="420.1" y="385.6">3</text>
<text x="440.1" y="385.6">3</text>
<text x="460.1" y="385.6">2</text>
<text x="480.1" y="385.6">3</text>
<text x="500.1" y="385.6">3</text>
<text x="520.1" y="385.6">3</text>
<text x="540.1" y="385.6">6</text>
<text x="560.1" y="385.6">9</text>
<text x="580.1" y="385.6">9</text>
<text x="120.1" y="405.6">10</text>
<text x="140.1" y="405.6">9</text>
<text x="160.1" y="405.6">7</text>
<text x="180.1" y="405.6">7</text>
<text x="200.1" y="405.6">7</text>
<text x="220.1" y="405.6">7</text>
<text x="240.1" y="405.6">7</text>
<text x="260.1" y="405.6">4</text>
<text x="280.1" y="405.6">3</text>
<text x="300.1" y="405.6">6</text>
<text x="320.1" y="405.6">8</text>
<text x="340.1" y="405.6">6</text>
<text x="360.1" y="405.6">8</text>
<text x="380.1" y="405.6">7</text>
<text x="400.1" y="405.6">5</text>
<text x="420.1" y="405.6">3</text>
<text x="440.1" y="405.6">3</text>
<text x="460.1" y="405.6">2</text>
<text x="480.1" y="405.6">2</text>
<text x="500.1" y="405.6">3</text>
<text x="520.1" y="405.6">3</text>
<text x="540.1" y="405.6">6</text>
<text x="560.1" y="405.6">9</text>
<text x="120.1" y="425.6">10</text>
<text x="140.1" y="425.6">8</text>
<text x="160.1" y="425.6">7</text>
<text x="180.1" y="425.6">7</text>
<text x="200.1" y="425.6">8</text>
<text x="220.1" y="425.6">8</text>
<text x="240.1" y="425.6">8</text>
<text x="260.1" y="425.6">8</text>
<text x="280.1" y="425.6">8</text>
<text x="300.1" y="425.6">7</text>
<text x="320.1" y="425.6">8</text>
<text x="340.1" y="425.6">8</text>
<text x="360.1" y="425.6">7</text>
<text x="380.1" y="425.6">7</text>
<text x="400.1" y="425.6">5</text>
<text x="420.1" y="425.6">3</text>
<text x="440.1" y="425.6">2</text>
<text x="460.1" y="425.6">3</text>
<text x="480.1" y="425.6">3</text>
<text x="500.1" y="425.6">3</text>
<text x="520.1" y="425.6">7</text>
<text x="540.1" y="425.6">11</text>
<text x="740.1" y="425.6">12</text>
<text x="100.1" y="445.6">10</text>
<text x="120.1" y="445.6">10</text>
<text x="140.1" y="445.6">9</text>
<text x="160.1" y="445.6">9</text>
<text x="180.1" y="445.6">9</text>
<text x="200.1" y="445.6">8</text>
<text x="220.1" y="445.6">9</text>
<text x="240.1" y="445.6">9</text>
<text x="260.1" y="445.6">8</text>
<text x="280.1" y="445.6">8</text>
<text x="300.1" y="445.6">7</text>
<text x="320.1" y="445.6">6</text>
<text x="340.1" y="445.6">6</text>
<text x="360.1" y="445.6">6</text>
<text x="380.1" y="445.6">6</text>
<text x="400.1" y="445.6">6</text>
<text x="420.1" y="445.6">4</text>
<text x="440.1" y="445.6">4</text>
<text x="460.1" y="445.6">4</text>
<text x="480.1" y="445.6">5</text>
<text x="500.1" y="445.6">7</text>
<text x="520.1" y="445.6">9</text>
<text x="680.1" y="445.6">10</text>
<text x="700.1" y="445.6">10</text>
<text x="100.1" y="465.6">11</text>
<text x="120.1" y="465.6">10</text>
<text x="140.1" y="465.6">10</text>
<text x="160.1" y="465.6">9</text>
<text x="180.1" y="465.6">9</text>
<text x="200.1" y="465.6">9</text>
<text x="220.1" y="465.6">9</text>
<text x="240.1" y="465.6">9</text>
<text x="260.1" y="465.6">9</text>
<text x="280.1" y="465.6">9</text>
<text x="300.1" y="465.6">8</text>
<text x="320.1" y="465.6">7</text>
<text x="340.1" y="465.6">7</text>
<text x="360.1" y="465.6">6</text>
<text x="380.1" y="465.6">7</text>
<text x="400.1" y="465.6">7</text>
<text x="420.1" y="465.6">6</text>
<text x="440.1" y="465.6">5</text>
<text x="460.1" y="465.6">6</text>
<text x="480.1" y="465.6">6</text>
<text x="500.1" y="465.6">7</text>
<text x="520.1" y="465.6">10</text>
<text x="680.1" y="465.6">11</text>
<text x="700.1" y="465.6">10</text>
<text x="80.1" y="485.6">11</text>
<text x="100.1" y="485.6">10</text>
<text x="120.1" y="485.6">10</text>
<text x="140.1" y="485.6">10</text>
<text x="160.1" y="485.6">9</text>
<text x="180.1" y="485.6">9</text>
<text x="200.1" y="485.6">9</text>
<text x="220.1" y="485.6">9</text>
<text x="240.1" y="485.6">10</text>
<text x="260.1" y="485.6">10</text>
<text x="280.1" y="485.6">10</text>
<text x="300.1" y="485.6">8</text>
<text x="320.1" y="485.6">7</text>
<text x="340.1" y="485.6">6</text>
<text x="360.1" y="485.6">7</text>
<text x="380.1" y="485.6">7</text>
<text x="400.1" y="485.6">6</text>
<text x="420.1" y="485.6">5</text>
<text x="440.1" y="485.6">7</text>
<text x="460.1" y="485.6">5</text>
<text x="480.1" y="485.6">6</text>
<text x="500.1" y="485.6">7</text>
<text x="520.1" y="485.6">10</text>
<text x="620.1" y="485.6">11</text>
<text x="80.1" y="505.6">13</text>
<text x="120.1" y="505.6">10</text>
<text x="140.1" y="505.6">9</text>
<text x="160.1" y="505.6">9</text>
<text x="180.1" y="505.6">9</text>
<text x="200.1" y="505.6">10</text>
<text x="220.1" y="505.6">10</text>
<text x="240.1" y="505.6">10</text>
<text x="260.1" y="505.6">10</text>
<text x="280.1" y="505.6">10</text>
<text x="300.1" y="505.6">9</text>
<text x="320.1" y="505.6">8</text>
<text x="340.1" y="505.6">7</text>
<text x="360.1" y="505.6">6</text>
<text x="380.1" y="505.6">6</text>
<text x="400.1" y="505.6">5</text>
<text x="420.1" y="505.6">4</text>
<text x="440.1" y="505.6">5</text>
<text x="460.1" y="505.6">6</text>
<text x="480.1" y="505.6">6</text>
<text x="500.1" y="505.6">6</text>
<text x="520.1" y="505.6">6</text>
<text x="540.1" y="505.6">9</text>
<text x="100.1" y="525.6">11</text>
<text x="120.1" y="525.6">11</text>
<text x="140.1" y="525.6">10</text>
<text x="160.1" y="525.6">10</text>
<text x="180.1" y="525.6">10</text>
<text x="200.1" y="525.6">9</text>
<text x="220.1" y="525.6">9</text>
<text x="240.1" y="525.6">9</text>
<text x="260.1" y="525.6">9</text>
<text x="280.1" y="525.6">9</text>
<text x="300.1" y="525.6">9</text>
<text x="320.1" y="525.6">8</text>
<text x="340.1" y="525.6">8</text>
<text x="360.1" y="525.6">8</text>
<text x="380.1" y="525.6">7</text>
<text x="400.1" y="525.6">6</text>
<text x="420.1" y="525.6">3</text>
<text x="440.1" y="525.6">4</text>
<text x="460.1" y="525.6">7</text>
<text x="480.1" y="525.6">7</text>
<text x="500.1" y="525.6">9</text>
<text x="520.1" y="525.6">8</text>
<text x="120.1" y="545.6">11</text>
<text x="140.1" y="545.6">11</text>
<text x="160.1" y="545.6">11</text>
<text x="180.1" y="545.6">10</text>
<text x="200.1" y="545.6">9</text>
<text x="220.1" y="545.6">9</text>
<text x="240.1" y="545.6">9</text>
<text x="260.1" y="545.6">9</text>
<text x="280.1" y="545.6">10</text>
<text x="300.1" y="545.6">10</text>
<text x="320.1" y="545.6">11</text>
<text x="340.1" y="545.6">11</text>
<text x="360.1" y="545.6">11</text>
<text x="380.1" y="545.6">10</text>
<text x="400.1" y="545.6">6</text>
<text x="420.1" y="545.6">2</text>
<text x="440.1" y="545.6">4</text>
<text x="460.1" y="545.6">7</text>
<text x="480.1" y="545.6">10</text>
<text x="500.1" y="545.6">11</text>
<text x="120.1" y="565.6">11</text>
<text x="140.1" y="565.6">11</text>
<text x="160.1" y="565.6">11</text>
<text x="180.1" y="565.6">11</text>
<text x="200.1" y="565.6">10</text>
<text x="220.1" y="565.6">10</text>
<text x="240.1" y="565.6">10</text>
<text x="260.1" y="565.6">11</text>
<text x="280.1" y="565.6">12</text>
<text x="300.1" y="565.6">12</text>
<text x="320.1" y="565.6">12</text>
<text x="340.1" y="565.6">11</text>
<text x="360.1" y="565.6">9</text>
<text x="380.1" y="565.6">8</text>
<text x="400.1" y="565.6">7</text>
<text x="420.1" y="565.6">4</text>
<text x="440.1" y="565.6">5</text>
<text x="460.1" y="565.6">8</text>
<text x="480.1" y="565.6">10</text>
<text x="500.1" y="565.6">11</text>
<text x="120.1" y="585.6">11</text>
<text x="140.1" y="585.6">10</text>
<text x="160.1" y="585.6">10</text>
<text x="180.1" y="585.6">11</text>
<text x="200.1" y="585.6">11</text>
<text x="220.1" y="585.6">11</text>
<text x="240.1" y="585.6">12</text>
<text x="260.1" y="585.6">12</text>
<text x="280.1" y="585.6">12</text>
<text x="300.1" y="585.6">12</text>
<text x="320.1" y="585.6">10</text>
<text x="340.1" y="585.6">9</text>
<text x="360.1" y="585.6">7</text>
<text x="380.1" y="585.6">6</text>
<text x="400.1" y="585.6">6</text>
<text x="420.1" y="585.6">5</text>
<text x="440.1" y="585.6">8</text>
<text x="460.1" y="585.6">9</text>
<text x="120.1" y="605.6">11</text>
<text x="140.1" y="605.6">11</text>
<text x="160.1" y="605.6">11</text>
<text x="220.1" y="605.6">12</text>
<text x="240.1" y="605.6">12</text>
<text x="260.1" y="605.6">11</text>
<text x="280.1" y="605.6">10</text>
<text x="300.1" y="605.6">9</text>
<text x="320.1" y="605.6">8</text>
<text x="340.1" y="605.6">7</text>
<text x="360.1" y="605.6">6</text>
<text x="380.1" y="605.6">3</text>
<text x="400.1" y="605.6">5</text>
<text x="420.1" y="605.6">8</text>
<text x="440.1" y="605.6">11</text>
<text x="240.1" y="625.6">11</text>
<text x="260.1" y="625.6">11</text>
<text x="280.1" y="625.6">8</text>
<text x="300.1" y="625.6">7</text>
<text x="320.1" y="625.6">10</text>
<text x="340.1" y="625.6">10</text>
<text x="360.1" y="625.6">10</text>
<text x="380.1" y="625.6">10</text>
<text x="400.1" y="625.6">5</text>
<text x="420.1" y="625.6">10</text>
<text x="440.1" y="625.6">13</text>
<text x="720.1" y="625.6">11</text>
<text x="740.1" y="625.6">11</text>
<text x="760.1" y="625.6">9</text>
<text x="240.1" y="645.6">12</text>
<text x="260.1" y="645.6">11</text>
<text x="280.1" y="645.6">11</text>
<text x="300.1" y="645.6">13</text>
<text x="600.1" y="645.6">11</text>
<text x="620.1" y="645.6">10</text>
<text x="640.1" y="645.6">9</text>
<text x="660.1" y="645.6">10</text>
<text x="680.1" y="645.6">11</text>
<text x="700.1" y="645.6">9</text>
<text x="720.1" y="645.6">9</text>
<text x="740.1" y="645.6">8</text>
<text x="760.1" y="645.6">8</text>
<text x="260.1" y="665.6">12</text>
<text x="280.1" y="665.6">11</text>
<text x="560.1" y="665.6">13</text>
<text x="580.1" y="665.6">12</text>
<text x="600.1" y="665.6">11</text>
<text x="620.1" y="665.6">10</text>
<text x="640.1" y="665.6">8</text>
<text x="660.1" y="665.6">8</text>
<text x="680.1" y="665.6">8</text>
<text x="700.1" y="665.6">7</text>
<text x="720.1" y="665.6">7</text>
<text x="740.1" y="665.6">8</text>
<text x="760.1" y="665.6">7</text>
<text x="280.1" y="685.6">11</text>
<text x="520.1" y="685.6">13</text>
<text x="560.1" y="685.6">13</text>
<text x="580.1" y="685.6">12</text>
<text x="600.1" y="685.6">10</text>
<text x="620.1" y="685.6">8</text>
<text x="640.1" y="685.6">6</text>
<text x="660.1" y="685.6">7</text>
<text x="680.1" y="685.6">8</text>
<text x="700.1" y="685.6">8</text>
<text x="720.1" y="685.6">9</text>
<text x="740.1" y="685.6">9</text>
<text x="760.1" y="685.6">9</text>
<text x="260.1" y="705.6">12</text>
<text x="280.1" y="705.6">10</text>
<text x="500.1" y="705.6">13</text>
<text x="520.1" y="705.6">12</text>
<text x="540.1" y="705.6">11</text>
<text x="560.1" y="705.6">10</text>
<text x="580.1" y="705.6">11</text>
<text x="600.1" y="705.6">8</text>
<text x="620.1" y="705.6">7</text>
<text x="640.1" y="705.6">8</text>
<text x="660.1" y="705.6">8</text>
<text x="680.1" y="705.6">9</text>
<text x="700.1" y="705.6">8</text>
<text x="720.1" y="705.6">9</text>
<text x="740.1" y="705.6">9</text>
<text x="760.1" y="705.6">11</text>
<text x="240.1" y="725.6">13</text>
<text x="260.1" y="725.6">12</text>
<text x="280.1" y="725.6">9</text>
<text x="300.1" y="725.6">8</text>
<text x="320.1" y="725.6">8</text>
<text x="340.1" y="725.6">8</text>
<text x="360.1" y="725.6">9</text>
<text x="380.1" y="725.6">11</text>
<text x="400.1" y="725.6">11</text>
<text x="420.1" y="725.6">12</text>
<text x="440.1" y="725.6">13</text>
<text x="460.1" y="725.6">12</text>
<text x="480.1" y="725.6">10</text>
<text x="500.1" y="725.6">10</text>
<text x="520.1" y="725.6">10</text>
<text x="540.1" y="725.6">9</text>
<text x="560.1" y="725.6">9</text>
<text x="580.1" y="725.6">8</text>
<text x="600.1" y="725.6">6</text>
<text x="620.1" y="725.6">8</text>
<text x="640.1" y="725.6">7</text>
<text x="660.1" y="725.6">8</text>
<text x="680.1" y="725.6">8</text>
<text x="700.1" y="725.6">8</text>
<text x="720.1" y="725.6">7</text>
<text x="740.1" y="725.6">7</text>
<text x="760.1" y="725.6">9</text>
<text x="720.1" y="745.6">6</text>
<text x="760.1" y="745.6">8</text>
<text x="240.1" y="765.6">14</text>
<text x="260.1" y="765.6">13</text>
<text x="280.1" y="765.6">13</text>
<text x="300.1" y="765.6">12</text>
<text x="320.1" y="765.6">11</text>
<text x="340.1" y="765.6">9</text>
<text x="360.1" y="765.6">10</text>
<text x="380.1" y="765.6">11</text>
<text x="400.1" y="765.6">12</text>
<text x="420.1" y="765.6">12</text>
<text x="440.1" y="765.6">10</text>
<text x="460.1" y="765.6">7</text>
<text x="480.1" y="765.6">7</text>
<text x="500.1" y="765.6">7</text>
<text x="520.1" y="765.6">7</text>
<text x="540.1" y="765.6">7</text>
<text x="560.1" y="765.6">7</text>
<text x="580.1" y="765.6">8</text>
<text x="600.1" y="765.6">8</text>
<text x="620.1" y="765.6">7</text>
<text x="640.1" y="765.6">7</text>
<text x="660.1" y="765.6">7</text>
<text x="680.1" y="765.6">6</text>
<text x="700.1" y="765.6">7</text>
<text x="720.1" y="765.6">7</text>
<text x="740.1" y="765.6">8</text>
<text x="760.1" y="765.6">11</text>
</g>
<path fill="none" stroke="#000" stroke-width="1.25" stroke-linejoin="round" shape-rendering="auto" d="M484.8,-2.0 484.8,0.0 482.7,6.2 489.0,11.5 490.4,18.8 489.0,25.0 484.8,31.2 482.7,37.5 484.8,40.6 492.1,46.9 500.4,55.2 506.7,61.5 508.8,70.8 510.8,80.2 514.0,86.5 508.8,80.2 505.6,70.8 502.5,62.5 495.2,56.2 490.0,47.9 486.2,53.1 485.4,72.9 484.2,87.5 482.7,102.1 482.7,108.3 489.0,106.7 492.1,110.4 486.9,112.5 482.7,114.6 480.6,125.0 479.2,141.7 475.8,157.1 472.7,171.7 470.6,182.1 466.5,191.5 460.2,197.7 455.0,198.8 446.7,201.9 438.3,204.0 430.0,203.3 421.7,200.8 413.3,196.7 406.0,195.0 398.8,196.2 392.5,199.8 386.2,198.8 380.0,196.0 374.2,194.6 369.0,190.4 363.8,191.0 357.5,193.1 353.3,191.7 345.0,194.6 336.7,196.7 328.3,197.9 320.0,197.9 311.7,196.7 303.3,194.6 295.0,193.1 286.7,192.1 282.5,189.6 274.2,187.5 264.8,187.5 260.6,184.8 255.4,179.2 249.2,183.8 240.8,185.8 235.6,184.2 228.3,186.2 220.0,187.5 215.8,186.7 195.0,188.1 184.6,185.0 182.5,180.8 174.2,176.7 165.8,172.9 161.7,174.6 155.4,174.2 154.4,177.7 147.0,176.7 140.8,182.9 133.5,187.1 133.1,194.4 140.8,193.3 137.7,198.5 132.5,198.5 122.0,202.7 111.7,204.8 107.5,201.7 101.3,204.8 102.3,209.0 90.8,213.1 88.8,220.4 85.6,222.5 86.7,230.8 90.8,228.8 94.0,236.0 97.0,240.2 106.5,237.0 101.3,243.3 96.0,253.8 99.2,257.9 105.4,249.6 110.6,248.5 111.7,252.7 106.5,259.0 102.3,260.0 103.3,266.2 114.8,263.1 111.7,268.3 104.4,273.5 105.4,276.7 119.0,268.3 119.0,273.5 111.7,280.8 105.4,285.0 106.5,297.5 106.2,300.0 109.0,314.6 111.0,329.2 114.2,339.6 116.2,350.0 116.7,358.3 114.6,370.8 111.0,383.3 107.5,397.9 104.8,410.4 107.9,411.5 104.8,420.8 100.6,433.3 97.5,440.0 95.4,450.4 87.1,459.8 79.8,461.9 82.9,467.1 83.3,475.4 79.8,487.9 76.7,496.2 76.2,501.5 79.8,505.0 87.1,505.6 91.2,506.7 89.2,509.8 92.3,516.0 89.2,521.2 91.2,522.9 104.8,519.2 106.9,517.5 110.0,520.2 113.1,517.1 115.2,521.2 110.0,522.3 111.0,531.7 110.0,542.1 106.9,548.3 110.0,552.5 109.6,565.0 108.8,572.5 109.8,582.9 107.5,591.2 104.5,600.6 100.4,606.9 102.5,611.0 110.8,606.9 117.1,602.7 131.7,604.4 144.2,605.8 150.4,610.0 155.6,613.1 161.9,609.0 170.2,602.7 179.6,598.5 187.9,597.5 192.1,598.5 198.3,597.1 200.4,595.4 206.7,601.7 215.0,606.9 223.3,614.2 227.5,622.5 226.5,628.8 233.8,635.0 237.9,640.2 233.8,639.2 238.5,646.7 244.8,657.1 253.1,663.3 260.4,667.5 266.7,671.0 272.9,668.5 275.4,664.4 274.6,661.2 278.1,660.2 280.2,661.7 282.3,658.1 284.4,652.9 288.5,646.7 295.8,642.5 304.2,640.4 312.5,639.4 315.6,637.3 321.9,633.1 325.0,629.0 333.3,627.5 340.0,626.7 348.3,625.6 355.6,626.2 362.9,627.1 373.3,628.8 378.5,626.7 384.8,625.6 400.4,626.7 406.7,629.2 412.9,627.7 416.0,621.5 427.5,621.0 431.7,624.6 435.8,627.7 439.0,624.6 444.2,619.4 448.3,615.2 452.5,605.8 453.2,600.0 457.1,593.1 464.4,585.8 471.7,579.6 480.0,575.4 486.2,576.5 496.7,575.4 507.1,573.3 508.1,570.2 506.0,562.9 507.1,554.6 512.3,546.2 513.3,539.0 518.5,537.9 517.5,529.6 522.7,525.4 525.8,520.2 532.1,516.0 540.4,512.9 545.6,507.7 552.9,502.5 550.8,497.3 543.5,493.1 537.3,486.9 533.1,479.6 531.0,469.2 527.9,458.8 529.0,450.4 532.5,442.0 535.4,437.9 542.7,425.4 550.0,415.0 556.2,406.7 562.5,398.3 566.7,390.0 571.9,383.8 580.2,380.0 585.4,377.5 586.5,374.4 581.2,373.3 578.1,371.2 580.2,366.0 585.4,359.8 591.7,354.6 600.0,351.5 608.3,348.3 616.7,344.6 629.2,342.1 641.7,339.6 647.9,336.9 652.1,330.6 660.0,324.8 670.5,318.3 679.9,313.8 686.1,309.6 693.4,303.3 699.7,298.1 700.7,290.8 698.6,283.5 695.5,278.3 698.6,273.1 703.8,274.2 705.5,270.4 700.7,269.0 697.6,263.8 698.6,256.5 693.8,255.4 693.4,238.8 693.8,222.1 697.6,214.8 703.8,208.5 712.2,206.5 718.4,203.3 724.7,197.1 733.0,190.8 739.2,187.7 749.7,187.7 770.0,187.7 770.0,-2.0ZM220.0,770.0 220.0,768.0 227.5,749.0 237.1,730.0 241.7,713.3 246.9,698.8 250.0,683.1 262.5,681.7 270.8,677.9 275.0,679.0 280.2,677.5 281.2,686.2 283.3,694.6 288.5,700.8 295.8,707.1 302.1,712.3 308.3,717.5 316.7,719.6 325.0,721.7 333.3,720.6 336.2,718.1 342.5,716.0 348.8,715.0 350.8,718.1 357.1,719.2 361.2,714.0 366.5,717.1 373.8,720.2 382.1,720.2 388.3,715.0 392.5,710.8 394.6,705.0 397.7,705.0 398.8,712.9 402.9,720.2 409.2,722.3 417.5,722.3 423.8,721.2 427.9,723.3 434.2,724.4 442.5,725.4 448.8,725.0 457.1,722.3 465.4,717.1 471.7,711.9 478.3,710.8 481.5,702.5 484.6,697.3 490.8,692.1 497.1,687.5 501.2,684.8 507.5,687.9 513.8,685.8 519.0,678.5 525.2,675.8 530.4,681.7 535.6,684.2 541.9,680.0 546.0,673.3 549.2,667.1 555.4,662.9 560.6,657.7 567.9,654.6 575.2,650.4 583.5,648.3 588.8,643.8 595.0,641.0 605.4,640.0 611.7,638.3 620.5,638.3 633.0,636.7 645.5,634.6 658.0,631.7 662.2,635.2 668.4,634.6 674.7,630.0 680.9,624.8 687.2,621.2 692.4,622.7 696.5,625.8 700.7,620.6 708.0,623.8 716.3,621.7 724.7,617.9 733.0,615.0 743.4,616.5 753.8,617.1 762.2,616.5 770.0,617.5 770.0,770.0ZM657.2,448.2 666.5,441.7 675.7,434.8 685.0,429.0 693.1,425.5 700.8,424.3 696.6,427.8 700.1,431.3 698.9,434.8 703.6,438.2 708.2,435.9 712.8,438.2 712.4,445.2 708.2,449.8 703.6,456.8 698.9,462.6 693.1,467.2 687.3,463.7 681.5,462.6 678.1,457.9 676.9,452.1 670.0,451.0 665.3,455.6 660.7,452.1ZM728.6,419.0 738.3,417.4 747.6,418.1 752.2,422.0 755.0,429.0 753.4,433.6 748.7,432.0 743.0,426.7 733.7,426.0 729.5,425.0ZM602.7,488.1 607.4,482.3 614.3,479.3 621.3,478.3 622.0,483.4 617.8,489.2 612.0,495.0 605.1,493.9 601.6,492.7ZM96.0,494.0 99.5,493.5 102.0,496.0 101.5,500.0 99.0,504.0 95.5,505.5 94.0,503.0 94.5,498.0Z"/>
<path fill="none" stroke="#000" stroke-width="1.3" stroke-linejoin="round" shape-rendering="auto" d="M106.2,298.5 112.5,293.3 120.8,288.1 131.2,286.0 139.6,281.9 142.7,282.9 144.8,290.2 140.6,294.4 139.6,298.5 142.7,303.8 150.0,300.6 154.2,297.5 160.4,299.6 166.7,298.5 171.9,301.7 176.0,299.6 180.2,302.7 187.5,299.6 189.6,294.4 193.8,292.3 199.0,294.4 204.2,293.3 208.3,292.3 213.5,294.4 220.8,295.4 221.2,301.7 220.8,310.0 225.0,312.5 231.2,313.1 235.4,317.3 237.5,321.5 234.4,327.7 231.2,332.9 225.0,338.1 218.8,342.3 213.5,346.5 208.3,351.7 203.1,355.8 204.2,360.0 207.3,364.2 208.3,372.5 207.3,380.8 209.4,389.2 207.3,395.4 208.3,401.7 204.2,404.8 199.0,406.9 198.3,412.5 202.5,416.7 203.5,422.9 201.5,431.2 199.4,437.5 198.3,443.3 187.9,443.8 173.3,444.2 176.5,449.0 181.7,454.2 184.8,460.4 186.9,468.8 190.0,475.0 195.2,478.8 200.4,480.2 201.5,483.3 198.3,489.6 195.2,495.8 190.0,500.0 184.8,504.0 185.4,511.2 183.5,518.5 187.5,525.8 191.7,532.1 195.0,537.0 200.0,535.0 201.2,539.0 198.0,543.0 193.0,546.3 188.0,549.0 185.0,551.5 184.4,557.1 180.2,562.3 176.0,569.6 173.3,575.8 175.0,582.1 176.0,588.3 176.7,599.2"/>
<path fill="none" stroke="#000" stroke-width="1.3" stroke-linejoin="round" shape-rendering="auto" d="M456.0,199.8 459.2,202.9 463.3,205.0 469.6,206.0 473.8,208.1 474.8,213.3 471.7,217.5 470.6,220.6 474.8,222.7 477.9,217.5 480.0,219.6 484.2,222.7 490.4,225.8 498.8,227.9 505.0,227.5 506.0,232.1 511.2,235.2 515.4,238.3 521.7,237.3 525.8,236.2 532.1,239.4 537.5,241.5 549.1,244.8 564.5,245.9 575.3,244.8 576.0,237.0 587.6,235.9 599.2,239.0 606.9,244.8 611.1,247.1 613.2,253.3 612.2,258.5 616.3,261.7 622.6,259.6 628.8,259.2 635.1,260.6 639.2,263.8 641.3,267.5 645.5,265.8 651.8,262.7 658.0,263.8 663.2,266.2 668.4,268.3 673.6,266.9 676.8,263.8 683.0,261.7 691.3,261.2 697.6,261.7 698.6,262.7"/>
<path fill="none" stroke="#000" stroke-width="1.3" stroke-linejoin="round" shape-rendering="auto" d="M433.5,723.3 434.5,729.5"/>
<path fill="none" stroke="#000" stroke-width="1.3" stroke-linejoin="round" shape-rendering="auto" d="M452.0,751.0 454.0,760.0 457.0,768.0"/>
<path fill="none" stroke="#000" stroke-width="1" stroke-dasharray="5 1.2" shape-rendering="auto" d="M208.3,260.0 211.5,267.3 209.4,274.6 204.2,279.8 197.9,286.0 200.0,292.3"/>
<path fill="none" stroke="#000" stroke-width="1" stroke-dasharray="5 1.2" shape-rendering="auto" d="M195.0,188.1 197.0,195.0 194.0,203.0 199.0,210.0 203.0,216.0 208.0,222.0 206.0,228.0 201.0,232.0 203.0,240.0 208.0,246.0 206.0,253.0 208.3,260.0"/>
<path fill="none" stroke="#000" stroke-width="1" stroke-dasharray="5 1.2" shape-rendering="auto" d="M208.0,222.0 215.0,219.0 222.0,221.0 230.0,219.0 238.0,222.0 246.0,220.0 254.0,223.0 262.0,220.0 270.0,222.0 280.0,218.6 287.8,216.0 295.6,212.1 304.7,210.8 304.7,216.0 311.2,223.9 321.7,222.6 329.5,223.9 334.7,229.1 338.6,235.6 343.8,239.5 350.3,238.2 354.2,235.6 350.3,231.7 347.7,227.8 354.2,221.2 360.7,216.0 365.9,214.7 373.8,214.7 381.6,212.1 386.8,214.7 389.4,222.6 394.6,226.5 392.0,230.4 384.2,229.1 384.2,234.3 389.4,236.9 392.0,242.1 390.7,249.9 394.6,251.2 402.4,249.9 410.0,250.0 420.6,251.2"/>
<path fill="none" stroke="#000" stroke-width="1" stroke-dasharray="5 1.2" shape-rendering="auto" d="M304.7,210.8 308.6,206.9 319.1,204.3 323.0,201.7 324.0,198.0"/>
<path fill="none" stroke="#000" stroke-width="1" stroke-dasharray="5 1.2" shape-rendering="auto" d="M373.8,208.2 375.0,214.7"/>
<path fill="none" stroke="#000" stroke-width="1" stroke-dasharray="5 1.2" shape-rendering="auto" d="M373.8,208.2 377.0,205.0 381.0,207.0 380.0,210.0 376.0,211.0"/>
<path fill="none" stroke="#000" stroke-width="1" stroke-dasharray="5 1.2" shape-rendering="auto" d="M457.2,199.0 453.2,205.6 449.3,209.5 446.7,216.0 441.5,222.6 436.2,227.8 431.0,231.7 429.7,239.5 428.4,246.0 424.5,248.6 420.6,251.2"/>
<path fill="none" stroke="#000" stroke-width="1" stroke-dasharray="5 1.2" shape-rendering="auto" d="M420.6,251.2 422.0,257.7 431.0,260.3 438.9,264.2 446.7,270.8 453.2,276.0 459.7,279.8"/>
<path fill="none" stroke="#000" stroke-width="1" stroke-dasharray="5 1.2" shape-rendering="auto" d="M390.7,249.9 389.4,257.7 392.0,265.5 389.4,270.8 390.7,278.5 395.9,285.0 402.4,287.7 407.6,286.4 412.8,290.3 418.0,289.0 421.9,283.8 428.4,281.7 432.3,283.8 436.2,285.0 438.9,291.6 446.7,294.2 450.6,292.9 449.3,287.7 453.2,282.4 459.7,279.8"/>
<path fill="none" stroke="#000" stroke-width="1" stroke-dasharray="5 1.2" shape-rendering="auto" d="M459.7,279.8 462.3,292.9 474.0,295.5 477.9,287.7 474.0,278.5 475.3,268.1 480.0,252.5 485.0,243.0 492.0,236.0 498.8,227.9"/>
<path fill="none" stroke="#000" stroke-width="1" stroke-dasharray="5 1.2" shape-rendering="auto" d="M450.6,292.9 453.2,302.0 454.5,309.8 449.3,315.0 444.0,320.2 445.3,328.0 440.1,331.9 436.2,338.4 438.9,346.2 446.7,347.6 453.2,352.8 459.7,359.3 464.9,367.1 466.2,377.5 462.3,384.0 456.7,389.5 454.1,396.0 461.9,402.6 469.7,409.1 474.9,413.0 477.5,409.1 484.0,414.3 490.0,416.9"/>
<path fill="none" stroke="#000" stroke-width="1" stroke-dasharray="5 1.2" shape-rendering="auto" d="M438.9,346.2 433.6,351.5 425.8,352.8 418.0,348.9 415.4,342.3 407.6,339.0 401.1,341.0 394.6,338.4 386.8,339.0 376.3,341.0 367.2,346.2 363.3,348.9 356.8,355.4 347.7,361.9 346.0,370.0 339.5,372.6 333.0,379.1 331.7,388.2 329.1,394.7 323.9,397.3 322.6,403.9 316.0,407.8 308.2,405.2 303.0,409.1 296.5,411.7 290.0,414.3 285.8,414.6 278.5,406.2 273.3,408.3 265.0,406.2 260.8,402.1 253.5,404.2 245.8,401.7 243.8,395.4 237.5,389.2 233.3,392.3 225.0,397.5 216.7,403.8 209.4,404.8"/>
<path fill="none" stroke="#000" stroke-width="1" stroke-dasharray="5 1.2" shape-rendering="auto" d="M367.2,346.2 371.1,354.1 375.0,359.3 372.4,369.7 375.9,380.4 381.1,388.2 386.4,394.7 387.7,401.2 390.3,407.8 392.1,414.3 389.0,416.9 382.4,418.2 375.9,418.2 368.1,420.8 360.3,424.7 355.1,426.0 360.3,422.1 365.5,415.6 360.3,411.7 352.5,410.4 346.0,406.5 339.5,403.9 331.7,402.6 323.9,405.2 316.0,407.8"/>
<path fill="none" stroke="#000" stroke-width="1" stroke-dasharray="5 1.2" shape-rendering="auto" d="M278.5,406.2 279.6,414.6 277.5,425.0 283.8,431.2 289.0,437.5 287.9,445.8 294.2,453.1 301.7,458.5 310.8,458.5 309.5,466.4 312.1,474.2 305.6,476.8 300.4,482.0 303.0,489.8 297.8,497.6 296.5,502.8 301.7,505.4 303.0,510.6 310.8,513.2 316.0,518.4 323.9,523.6 331.7,524.9"/>
<path fill="none" stroke="#000" stroke-width="1" stroke-dasharray="5 1.2" shape-rendering="auto" d="M201.0,540.4 210.4,542.1 218.8,542.5 222.9,545.6 229.2,546.7 235.4,550.8 241.7,549.8 247.9,546.7 251.0,542.5 256.2,538.3 262.5,536.7 264.2,540.4 268.8,538.3 271.9,534.2 269.8,526.9 270.8,520.6 277.1,515.4 283.3,510.2 289.6,505.0 293.8,501.9 297.8,497.6"/>
<path fill="none" stroke="#000" stroke-width="1" stroke-dasharray="5 1.2" shape-rendering="auto" d="M331.7,524.9 342.1,523.6 352.5,524.2 362.9,522.3 370.7,523.6 378.5,520.5 389.0,519.7 394.2,521.0 402.0,518.4 409.8,515.8 416.3,517.1 418.9,523.6 421.5,531.5 418.9,539.3 417.6,543.2 425.4,545.8 430.6,552.3 438.4,556.2 444.9,557.5 443.6,565.3 443.8,567.3 447.6,577.0 455.3,582.8 463.0,581.5"/>
<path fill="none" stroke="#000" stroke-width="1" stroke-dasharray="5 1.2" shape-rendering="auto" d="M425.4,545.8 431.9,539.3 439.7,532.8 448.9,528.9 456.7,524.9 463.2,528.9 469.7,523.6 471.0,510.6 472.3,502.8 480.1,498.9 486.1,503.0 493.8,503.8"/>
<path fill="none" stroke="#000" stroke-width="1" stroke-dasharray="5 1.2" shape-rendering="auto" d="M490.0,416.9 482.7,422.1 484.0,432.5 477.5,440.3 469.7,445.5 468.4,453.3 472.3,461.1 480.1,463.8 485.3,469.0 484.0,479.4 481.4,485.9 490.0,492.4 495.8,494.1 493.8,503.8"/>
<path fill="none" stroke="#000" stroke-width="1" stroke-dasharray="5 1.2" shape-rendering="auto" d="M495.8,494.1 497.7,507.6 493.8,523.0 495.8,538.4 501.5,550.0 505.4,561.6"/>
<path fill="none" stroke="#000" stroke-width="1" stroke-dasharray="5 1.2" shape-rendering="auto" d="M490.0,416.9 493.8,422.8 499.6,428.6 503.5,422.8 509.4,417.1 514.6,412.9 516.7,406.7 522.9,404.6 527.1,398.3 526.0,394.2 529.2,390.0 528.1,383.8 524.0,379.6 527.1,377.5 531.2,375.4 533.3,371.2 537.5,372.3 540.6,374.4 544.8,375.4 550.0,375.4 554.6,372.3"/>
<path fill="none" stroke="#000" stroke-width="1" stroke-dasharray="5 1.2" shape-rendering="auto" d="M575.3,244.8 576.0,254.4 578.0,266.0 574.1,277.5 570.3,289.1 566.7,300.0 560.4,310.8 559.4,317.1 561.5,323.3 560.4,331.7 560.4,340.0 555.2,346.2 552.1,351.5 555.8,356.7 556.2,365.0 554.6,372.3 557.3,378.5 562.5,382.7 566.7,386.2 569.8,384.8"/>
<g shape-rendering="crispEdges">
<rect x="39.5" y="729.5" width="676" height="21" fill="#000"/>
<rect x="41" y="731" width="24" height="19" fill="#001040"/>
<rect x="66" y="731" width="24" height="19" fill="#003366"/>
<rect x="91" y="731" width="24" height="19" fill="#003399"/>
<rect x="116" y="731" width="24" height="19" fill="#0000cc"/>
<rect x="141" y="731" width="24" height="19" fill="#0000ff"/>
<rect x="166" y="731" width="24" height="19" fill="#0033ff"/>
<rect x="191" y="731" width="24" height="19" fill="#0099ff"/>
<rect x="216" y="731" width="24" height="19" fill="#33ccff"/>
<rect x="241" y="731" width="24" height="19" fill="#66ffff"/>
<rect x="266" y="731" width="24" height="19" fill="#66ff99"/>
<rect x="291" y="731" width="24" height="19" fill="#66ff66"/>
<rect x="316" y="731" width="24" height="19" fill="#66ff00"/>
<rect x="341" y="731" width="24" height="19" fill="#c0f810"/>
<rect x="366" y="731" width="24" height="19" fill="#ffff0a"/>
<rect x="391" y="731" width="24" height="19" fill="#ffff80"/>
<rect x="416" y="731" width="24" height="19" fill="#ffe850"/>
<rect x="441" y="731" width="24" height="19" fill="#ffcc00"/>
<rect x="466" y="731" width="24" height="19" fill="#ff9900"/>
<rect x="491" y="731" width="24" height="19" fill="#ff6600"/>
<rect x="516" y="731" width="24" height="19" fill="#ff4d33"/>
<rect x="541" y="731" width="24" height="19" fill="#ff3300"/>
<rect x="566" y="731" width="24" height="19" fill="#ff0000"/>
<rect x="591" y="731" width="24" height="19" fill="#cc0000"/>
<rect x="616" y="731" width="24" height="19" fill="#990000"/>
<rect x="641" y="731" width="24" height="19" fill="#700000"/>
<rect x="666" y="731" width="24" height="19" fill="#500000"/>
<rect x="691" y="731" width="24" height="19" fill="#000000"/>
</g>
<g font-family="Liberation Sans, sans-serif" font-weight="bold" font-size="12" fill="#8cffff" stroke="#000848" stroke-width="2.4" stroke-linejoin="round" paint-order="stroke fill" shape-rendering="auto" letter-spacing="-0.8">
<text x="60.8" y="724.3">-14</text>
<text x="85.8" y="724.3">-12</text>
<text x="110.8" y="724.3">-10</text>
<text x="135.8" y="724.3">-8</text>
<text x="160.8" y="724.3">-6</text>
<text x="185.8" y="724.3">-4</text>
<text x="210.8" y="724.3">-2</text>
<text x="234.4" y="724.3">0</text>
<text x="259.4" y="724.3">2</text>
<text x="284.4" y="724.3">4</text>
<text x="309.4" y="724.3">6</text>
<text x="334.4" y="724.3">8</text>
<text x="359.4" y="724.3">10</text>
<text x="384.4" y="724.3">12</text>
<text x="409.4" y="724.3">14</text>
<text x="434.4" y="724.3">16</text>
<text x="459.4" y="724.3">18</text>
<text x="484.4" y="724.3">20</text>
<text x="509.4" y="724.3">22</text>
<text x="534.4" y="724.3">24</text>
<text x="559.4" y="724.3">26</text>
<text x="584.4" y="724.3">28</text>
<text x="609.4" y="724.3">30</text>
<text x="634.4" y="724.3">32</text>
<text x="659.4" y="724.3">34</text>
<text x="684.4" y="724.3">36</text>
<text x="709.4" y="724.3">38</text>
</g>
<text x="735" y="747" font-family="Liberation Sans, sans-serif" font-weight="bold" font-size="12" text-anchor="middle" fill="#8cffff" stroke="#000848" stroke-width="2.4" stroke-linejoin="round" paint-order="stroke fill" letter-spacing="-0.5">(°C)</text>
<text x="11" y="27.8" font-size="19" textLength="264.8" lengthAdjust="spacingAndGlyphs" font-family="Liberation Sans, sans-serif" font-weight="bold" fill="#00ffff" stroke="#000080" stroke-width="2.4" stroke-linejoin="round" paint-order="stroke fill" shape-rendering="auto">dimanche 16 novembre 2025</text>
<text x="11" y="52.3" font-size="23.5" textLength="118.5" lengthAdjust="spacingAndGlyphs" font-family="Liberation Sans, sans-serif" font-weight="bold" fill="#00ffff" stroke="#000080" stroke-width="2.4" stroke-linejoin="round" paint-order="stroke fill" shape-rendering="auto">7:00 locale</text>
<text x="150.5" y="51" font-size="17" textLength="55.8" lengthAdjust="spacingAndGlyphs" font-family="Liberation Sans, sans-serif" font-weight="bold" fill="#00ffff" stroke="#000080" stroke-width="2.4" stroke-linejoin="round" paint-order="stroke fill" shape-rendering="auto">(+342h)</text>
<text x="11.2" y="85" font-size="16.2" textLength="307.8" lengthAdjust="spacingAndGlyphs" font-family="Liberation Sans, sans-serif" font-weight="bold" fill="#00ffff" stroke="#000080" stroke-width="2.4" stroke-linejoin="round" paint-order="stroke fill" shape-rendering="auto">Température du sol (couche 0-10cm) (°C)</text>
<rect x="510" y="5" width="258" height="21" fill="#000" shape-rendering="crispEdges"/>
<text x="520.3" y="20.8" font-family="Liberation Sans, sans-serif" font-weight="bold" font-size="11" fill="#fff" textLength="232" lengthAdjust="spacingAndGlyphs">Run GFS 0Z du dimanche 2 novembre 2025</text>
<text x="350" y="764.5" font-family="Liberation Sans, sans-serif" font-weight="bold" font-size="11.5" fill="#fff" stroke="#000" stroke-width="2.2" stroke-linejoin="round" paint-order="stroke fill" textLength="147" lengthAdjust="spacingAndGlyphs">Copyright 2025 Meteociel.fr</text>
</svg>
</body></html>
